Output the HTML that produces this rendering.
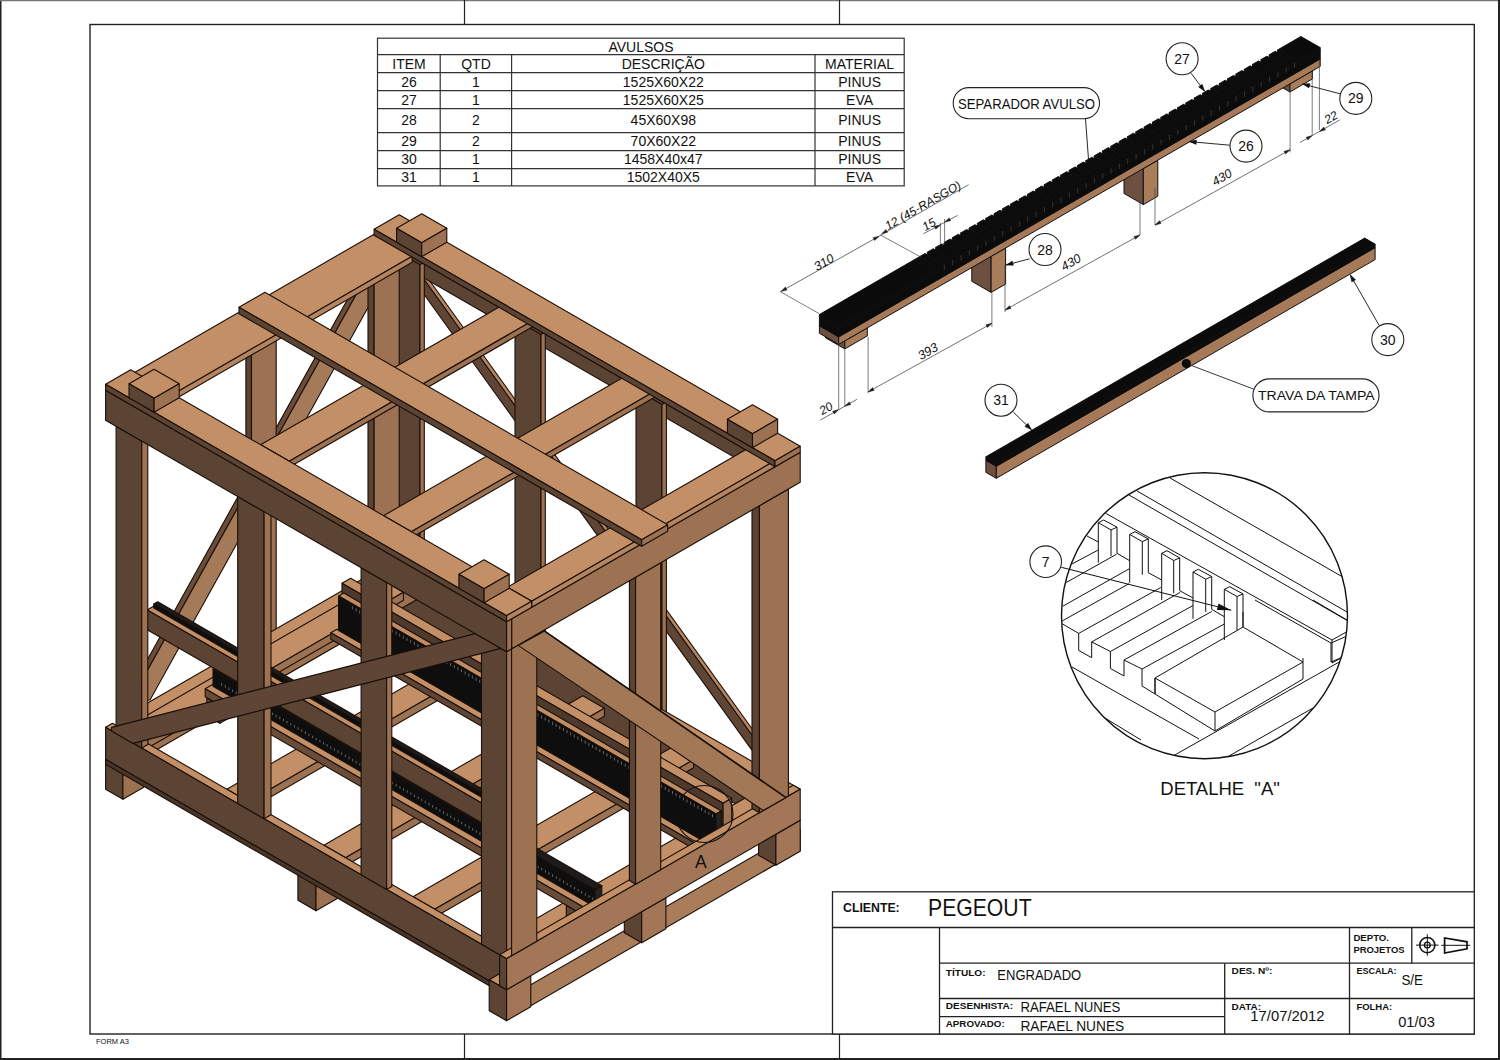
<!DOCTYPE html>
<html><head><meta charset="utf-8">
<style>
html,body{margin:0;padding:0;background:#fff;width:1500px;height:1060px;overflow:hidden}
svg{display:block}
text{font-family:"Liberation Sans",sans-serif;fill:#111}
.b{font-weight:bold}
</style></head><body>
<svg width="1500" height="1060" viewBox="0 0 1500 1060">
<rect x="0" y="0" width="1500" height="1060" fill="#fff"/>
<!-- outer frame -->
<g stroke="#222" fill="none">
<path d="M0.5 0 V1060" stroke-width="2"/>
<path d="M0 0.5 H1500" stroke="#777" stroke-width="1.5"/>
<path d="M1499 0 V1060" stroke-width="2"/>
<path d="M0 1059 H1500" stroke-width="2"/>
<rect x="90" y="24.5" width="1384.3" height="1009.5" stroke-width="1.4"/>
<path d="M464.5 0 V24 M839.5 0 V24 M464.5 1034 V1060 M839.5 1034 V1060" stroke-width="1.2"/>
</g>
<text x="96" y="1044" font-size="7.5">FORM A3</text>

<!-- AVULSOS table -->
<g stroke="#333" fill="none" stroke-width="1.2">
<rect x="377.5" y="38.2" width="526.7" height="147.7"/>
<path d="M377.5 54.7 H904.2 M377.5 72.7 H904.2 M377.5 90.7 H904.2 M377.5 108.7 H904.2 M377.5 132.6 H904.2 M377.5 150.6 H904.2 M377.5 168.6 H904.2"/>
<path d="M440.2 54.7 V185.9 M511.6 54.7 V185.9 M815 54.7 V185.9"/>
</g>
<g font-size="14" text-anchor="middle">
<text x="641" y="51.5">AVULSOS</text>
<text x="409" y="68.8">ITEM</text><text x="476" y="68.8">QTD</text><text x="663.3" y="68.8">DESCRIÇÃO</text><text x="859.6" y="68.8">MATERIAL</text>
<text x="409" y="86.8">26</text><text x="476" y="86.8">1</text><text x="663.3" y="86.8">1525X60X22</text><text x="859.6" y="86.8">PINUS</text>
<text x="409" y="104.8">27</text><text x="476" y="104.8">1</text><text x="663.3" y="104.8">1525X60X25</text><text x="859.6" y="104.8">EVA</text>
<text x="409" y="125.4">28</text><text x="476" y="125.4">2</text><text x="663.3" y="125.4">45X60X98</text><text x="859.6" y="125.4">PINUS</text>
<text x="409" y="146">29</text><text x="476" y="146">2</text><text x="663.3" y="146">70X60X22</text><text x="859.6" y="146">PINUS</text>
<text x="409" y="164">30</text><text x="476" y="164">1</text><text x="663.3" y="164">1458X40x47</text><text x="859.6" y="164">PINUS</text>
<text x="409" y="182">31</text><text x="476" y="182">1</text><text x="663.3" y="182">1502X40X5</text><text x="859.6" y="182">EVA</text>
</g>

<!-- CRATE -->
<g id="crate">
<polygon points="400.7,262.0 411.7,262.0 773.6,765.0 762.6,765.0" fill="#5e4535" stroke="#1a0f08" stroke-width="1.1" stroke-linejoin="round"/>
<polygon points="411.7,262.0 416.2,262.0 778.1,765.0 773.6,765.0" fill="#b5845f" stroke="#1a0f08" stroke-width="1.1" stroke-linejoin="round"/>
<polygon points="374.1,235.2 775.0,466.7 775.0,480.7 374.1,249.2" fill="#5b4433" stroke="#1a0f08" stroke-width="1.1" stroke-linejoin="round"/>
<polygon points="398.3,252.2 420.0,264.7 420.0,587.7 398.3,575.2" fill="#5b4433" stroke="#1a0f08" stroke-width="1.1" stroke-linejoin="round"/>
<polygon points="420.0,264.7 424.3,262.2 424.3,585.2 420.0,587.7" fill="#9c7252" stroke="#1a0f08" stroke-width="1.1" stroke-linejoin="round"/>
<polygon points="515.0,319.5 541.0,334.5 541.0,657.5 515.0,642.5" fill="#5b4433" stroke="#1a0f08" stroke-width="1.1" stroke-linejoin="round"/>
<polygon points="541.0,334.5 545.3,332.0 545.3,655.0 541.0,657.5" fill="#9c7252" stroke="#1a0f08" stroke-width="1.1" stroke-linejoin="round"/>
<polygon points="636.0,389.4 662.0,404.4 662.0,727.5 636.0,712.5" fill="#5b4433" stroke="#1a0f08" stroke-width="1.1" stroke-linejoin="round"/>
<polygon points="662.0,404.4 666.4,401.9 666.4,725.0 662.0,727.5" fill="#9c7252" stroke="#1a0f08" stroke-width="1.1" stroke-linejoin="round"/>
<polygon points="359.4,278.0 365.4,278.0 131.0,700.0 125.0,700.0" fill="#6a4d39" stroke="#1a0f08" stroke-width="1.1" stroke-linejoin="round"/>
<polygon points="365.4,278.0 384.4,278.0 150.0,700.0 131.0,700.0" fill="#a57a58" stroke="#1a0f08" stroke-width="1.1" stroke-linejoin="round"/>
<polygon points="110.8,393.2 404.4,223.7 404.4,253.7 110.8,423.2" fill="#9c7252" stroke="#1a0f08" stroke-width="1.1" stroke-linejoin="round"/>
<polygon points="245.9,345.2 251.5,348.4 251.5,655.5 245.9,652.2" fill="#5b4433" stroke="#1a0f08" stroke-width="1.1" stroke-linejoin="round"/>
<polygon points="251.5,348.4 276.2,334.2 276.2,641.2 251.5,655.5" fill="#9c7252" stroke="#1a0f08" stroke-width="1.1" stroke-linejoin="round"/>
<polygon points="368.0,273.7 374.1,277.2 374.1,584.2 368.0,580.7" fill="#5b4433" stroke="#1a0f08" stroke-width="1.1" stroke-linejoin="round"/>
<polygon points="374.1,277.2 399.2,262.7 399.2,569.7 374.1,584.2" fill="#9c7252" stroke="#1a0f08" stroke-width="1.1" stroke-linejoin="round"/>
<polygon points="381.9,567.7 782.8,799.2 800.2,789.2 399.2,557.7" fill="#c38f66" stroke="#1a0f08" stroke-width="1.1" stroke-linejoin="round"/>
<polygon points="381.9,567.7 782.8,799.2 782.8,831.2 381.9,599.7" fill="#5b4433" stroke="#1a0f08" stroke-width="1.1" stroke-linejoin="round"/>
<polygon points="122.9,717.2 140.2,727.2 416.5,567.7 399.2,557.7" fill="#c38f66" stroke="#1a0f08" stroke-width="1.1" stroke-linejoin="round"/>
<polygon points="140.2,727.2 416.5,567.7 416.5,599.7 140.2,759.2" fill="#9c7252" stroke="#1a0f08" stroke-width="1.1" stroke-linejoin="round"/>
<polygon points="122.9,729.2 144.6,741.7 403.5,592.2 381.9,579.7" fill="#c38f66" stroke="#1a0f08" stroke-width="1.1" stroke-linejoin="round"/>
<polygon points="122.9,729.2 144.6,741.7 144.6,749.7 122.9,737.2" fill="#5b4433" stroke="#1a0f08" stroke-width="1.1" stroke-linejoin="round"/>
<polygon points="144.6,741.7 403.5,592.2 403.5,600.2 144.6,749.7" fill="#9c7252" stroke="#1a0f08" stroke-width="1.1" stroke-linejoin="round"/>
<polygon points="226.8,789.2 248.5,801.7 507.4,652.2 485.8,639.7" fill="#c38f66" stroke="#1a0f08" stroke-width="1.1" stroke-linejoin="round"/>
<polygon points="226.8,789.2 248.5,801.7 248.5,809.7 226.8,797.2" fill="#5b4433" stroke="#1a0f08" stroke-width="1.1" stroke-linejoin="round"/>
<polygon points="248.5,801.7 507.4,652.2 507.4,660.2 248.5,809.7" fill="#9c7252" stroke="#1a0f08" stroke-width="1.1" stroke-linejoin="round"/>
<polygon points="323.8,845.2 345.5,857.7 604.4,708.2 582.8,695.7" fill="#c38f66" stroke="#1a0f08" stroke-width="1.1" stroke-linejoin="round"/>
<polygon points="323.8,845.2 345.5,857.7 345.5,865.7 323.8,853.2" fill="#5b4433" stroke="#1a0f08" stroke-width="1.1" stroke-linejoin="round"/>
<polygon points="345.5,857.7 604.4,708.2 604.4,716.2 345.5,865.7" fill="#9c7252" stroke="#1a0f08" stroke-width="1.1" stroke-linejoin="round"/>
<polygon points="413.0,896.7 434.7,909.2 693.6,759.7 672.0,747.2" fill="#c38f66" stroke="#1a0f08" stroke-width="1.1" stroke-linejoin="round"/>
<polygon points="413.0,896.7 434.7,909.2 434.7,917.2 413.0,904.7" fill="#5b4433" stroke="#1a0f08" stroke-width="1.1" stroke-linejoin="round"/>
<polygon points="434.7,909.2 693.6,759.7 693.6,767.7 434.7,917.2" fill="#9c7252" stroke="#1a0f08" stroke-width="1.1" stroke-linejoin="round"/>
<polygon points="493.6,943.2 515.2,955.7 774.2,806.2 752.5,793.7" fill="#c38f66" stroke="#1a0f08" stroke-width="1.1" stroke-linejoin="round"/>
<polygon points="493.6,943.2 515.2,955.7 515.2,963.7 493.6,951.2" fill="#5b4433" stroke="#1a0f08" stroke-width="1.1" stroke-linejoin="round"/>
<polygon points="515.2,955.7 774.2,806.2 774.2,814.2 515.2,963.7" fill="#9c7252" stroke="#1a0f08" stroke-width="1.1" stroke-linejoin="round"/>
<polygon points="342.0,583.3 723.1,803.3 731.7,798.3 350.7,578.3" fill="#c38f66" stroke="#1a0f08" stroke-width="1.1" stroke-linejoin="round"/>
<polygon points="342.0,583.3 723.1,803.3 723.1,845.7 342.0,625.7" fill="#4e3a2c" stroke="#1a0f08" stroke-width="1.1" stroke-linejoin="round"/>
<polygon points="723.1,803.3 731.7,798.3 731.7,840.7 723.1,845.7" fill="#9c7252" stroke="#1a0f08" stroke-width="1.1" stroke-linejoin="round"/>
<polygon points="330.8,632.7 711.8,852.7 717.9,849.2 336.8,629.2" fill="#c38f66" stroke="#1a0f08" stroke-width="1.1" stroke-linejoin="round"/>
<polygon points="330.8,632.7 711.8,852.7 711.8,859.2 330.8,639.2" fill="#5e4535" stroke="#1a0f08" stroke-width="1.1" stroke-linejoin="round"/>
<polygon points="711.8,852.7 717.9,849.2 717.9,855.7 711.8,859.2" fill="#9c7252" stroke="#1a0f08" stroke-width="1.1" stroke-linejoin="round"/>
<polygon points="338.6,595.9 716.1,813.9 721.3,810.9 343.8,592.9" fill="#c08c64" stroke="#1a0f08" stroke-width="1.1" stroke-linejoin="round"/>
<polygon points="338.6,595.9 716.1,813.9 716.1,848.2 338.6,630.2" fill="#0e0e0e" stroke="#1a0f08" stroke-width="1.1" stroke-linejoin="round"/>
<polygon points="716.1,813.9 721.3,810.9 721.3,845.2 716.1,848.2" fill="#222" stroke="#1a0f08" stroke-width="1.1" stroke-linejoin="round"/>
<line x1="352.4" y1="606.3" x2="352.4" y2="609.3" stroke="#8a8a8a" stroke-width="0.7"/>
<line x1="356.1" y1="608.4" x2="356.1" y2="611.4" stroke="#8a8a8a" stroke-width="0.7"/>
<line x1="359.7" y1="610.5" x2="359.7" y2="613.5" stroke="#8a8a8a" stroke-width="0.7"/>
<line x1="363.3" y1="612.6" x2="363.3" y2="615.6" stroke="#8a8a8a" stroke-width="0.7"/>
<line x1="367.0" y1="614.7" x2="367.0" y2="617.7" stroke="#8a8a8a" stroke-width="0.7"/>
<line x1="370.6" y1="616.8" x2="370.6" y2="619.8" stroke="#8a8a8a" stroke-width="0.7"/>
<line x1="374.2" y1="618.9" x2="374.2" y2="621.9" stroke="#8a8a8a" stroke-width="0.7"/>
<line x1="377.9" y1="621.0" x2="377.9" y2="624.0" stroke="#8a8a8a" stroke-width="0.7"/>
<line x1="381.5" y1="623.1" x2="381.5" y2="626.1" stroke="#8a8a8a" stroke-width="0.7"/>
<line x1="385.2" y1="625.2" x2="385.2" y2="628.2" stroke="#8a8a8a" stroke-width="0.7"/>
<line x1="388.8" y1="627.3" x2="388.8" y2="630.3" stroke="#8a8a8a" stroke-width="0.7"/>
<line x1="392.4" y1="629.4" x2="392.4" y2="632.4" stroke="#8a8a8a" stroke-width="0.7"/>
<line x1="396.1" y1="631.5" x2="396.1" y2="634.5" stroke="#8a8a8a" stroke-width="0.7"/>
<line x1="399.7" y1="633.6" x2="399.7" y2="636.6" stroke="#8a8a8a" stroke-width="0.7"/>
<line x1="403.3" y1="635.7" x2="403.3" y2="638.7" stroke="#8a8a8a" stroke-width="0.7"/>
<line x1="407.0" y1="637.8" x2="407.0" y2="640.8" stroke="#8a8a8a" stroke-width="0.7"/>
<line x1="410.6" y1="639.9" x2="410.6" y2="642.9" stroke="#8a8a8a" stroke-width="0.7"/>
<line x1="414.3" y1="642.0" x2="414.3" y2="645.0" stroke="#8a8a8a" stroke-width="0.7"/>
<line x1="417.9" y1="644.1" x2="417.9" y2="647.1" stroke="#8a8a8a" stroke-width="0.7"/>
<line x1="421.5" y1="646.2" x2="421.5" y2="649.2" stroke="#8a8a8a" stroke-width="0.7"/>
<line x1="425.2" y1="648.3" x2="425.2" y2="651.3" stroke="#8a8a8a" stroke-width="0.7"/>
<line x1="428.8" y1="650.4" x2="428.8" y2="653.4" stroke="#8a8a8a" stroke-width="0.7"/>
<line x1="432.4" y1="652.5" x2="432.4" y2="655.5" stroke="#8a8a8a" stroke-width="0.7"/>
<line x1="436.1" y1="654.6" x2="436.1" y2="657.6" stroke="#8a8a8a" stroke-width="0.7"/>
<line x1="439.7" y1="656.7" x2="439.7" y2="659.7" stroke="#8a8a8a" stroke-width="0.7"/>
<line x1="443.3" y1="658.8" x2="443.3" y2="661.8" stroke="#8a8a8a" stroke-width="0.7"/>
<line x1="447.0" y1="660.9" x2="447.0" y2="663.9" stroke="#8a8a8a" stroke-width="0.7"/>
<line x1="450.6" y1="663.0" x2="450.6" y2="666.0" stroke="#8a8a8a" stroke-width="0.7"/>
<line x1="454.3" y1="665.1" x2="454.3" y2="668.1" stroke="#8a8a8a" stroke-width="0.7"/>
<line x1="457.9" y1="667.2" x2="457.9" y2="670.2" stroke="#8a8a8a" stroke-width="0.7"/>
<line x1="461.5" y1="669.3" x2="461.5" y2="672.3" stroke="#8a8a8a" stroke-width="0.7"/>
<line x1="465.2" y1="671.4" x2="465.2" y2="674.4" stroke="#8a8a8a" stroke-width="0.7"/>
<line x1="468.8" y1="673.5" x2="468.8" y2="676.5" stroke="#8a8a8a" stroke-width="0.7"/>
<line x1="472.4" y1="675.6" x2="472.4" y2="678.6" stroke="#8a8a8a" stroke-width="0.7"/>
<line x1="476.1" y1="677.7" x2="476.1" y2="680.7" stroke="#8a8a8a" stroke-width="0.7"/>
<line x1="479.7" y1="679.8" x2="479.7" y2="682.8" stroke="#8a8a8a" stroke-width="0.7"/>
<line x1="483.4" y1="681.9" x2="483.4" y2="684.9" stroke="#8a8a8a" stroke-width="0.7"/>
<line x1="487.0" y1="684.0" x2="487.0" y2="687.0" stroke="#8a8a8a" stroke-width="0.7"/>
<line x1="490.6" y1="686.1" x2="490.6" y2="689.1" stroke="#8a8a8a" stroke-width="0.7"/>
<line x1="494.3" y1="688.2" x2="494.3" y2="691.2" stroke="#8a8a8a" stroke-width="0.7"/>
<line x1="497.9" y1="690.3" x2="497.9" y2="693.3" stroke="#8a8a8a" stroke-width="0.7"/>
<line x1="501.5" y1="692.4" x2="501.5" y2="695.4" stroke="#8a8a8a" stroke-width="0.7"/>
<line x1="505.2" y1="694.5" x2="505.2" y2="697.5" stroke="#8a8a8a" stroke-width="0.7"/>
<line x1="508.8" y1="696.6" x2="508.8" y2="699.6" stroke="#8a8a8a" stroke-width="0.7"/>
<line x1="512.5" y1="698.7" x2="512.5" y2="701.7" stroke="#8a8a8a" stroke-width="0.7"/>
<line x1="516.1" y1="700.8" x2="516.1" y2="703.8" stroke="#8a8a8a" stroke-width="0.7"/>
<line x1="519.7" y1="702.9" x2="519.7" y2="705.9" stroke="#8a8a8a" stroke-width="0.7"/>
<line x1="523.4" y1="705.0" x2="523.4" y2="708.0" stroke="#8a8a8a" stroke-width="0.7"/>
<line x1="527.0" y1="707.1" x2="527.0" y2="710.1" stroke="#8a8a8a" stroke-width="0.7"/>
<line x1="530.6" y1="709.2" x2="530.6" y2="712.2" stroke="#8a8a8a" stroke-width="0.7"/>
<line x1="534.3" y1="711.3" x2="534.3" y2="714.3" stroke="#8a8a8a" stroke-width="0.7"/>
<line x1="537.9" y1="713.4" x2="537.9" y2="716.4" stroke="#8a8a8a" stroke-width="0.7"/>
<line x1="541.6" y1="715.5" x2="541.6" y2="718.5" stroke="#8a8a8a" stroke-width="0.7"/>
<line x1="545.2" y1="717.6" x2="545.2" y2="720.6" stroke="#8a8a8a" stroke-width="0.7"/>
<line x1="548.8" y1="719.7" x2="548.8" y2="722.7" stroke="#8a8a8a" stroke-width="0.7"/>
<line x1="552.5" y1="721.8" x2="552.5" y2="724.8" stroke="#8a8a8a" stroke-width="0.7"/>
<line x1="556.1" y1="723.9" x2="556.1" y2="726.9" stroke="#8a8a8a" stroke-width="0.7"/>
<line x1="559.7" y1="726.0" x2="559.7" y2="729.0" stroke="#8a8a8a" stroke-width="0.7"/>
<line x1="563.4" y1="728.1" x2="563.4" y2="731.1" stroke="#8a8a8a" stroke-width="0.7"/>
<line x1="567.0" y1="730.2" x2="567.0" y2="733.2" stroke="#8a8a8a" stroke-width="0.7"/>
<line x1="570.7" y1="732.3" x2="570.7" y2="735.3" stroke="#8a8a8a" stroke-width="0.7"/>
<line x1="574.3" y1="734.4" x2="574.3" y2="737.4" stroke="#8a8a8a" stroke-width="0.7"/>
<line x1="577.9" y1="736.5" x2="577.9" y2="739.5" stroke="#8a8a8a" stroke-width="0.7"/>
<line x1="581.6" y1="738.6" x2="581.6" y2="741.6" stroke="#8a8a8a" stroke-width="0.7"/>
<line x1="585.2" y1="740.7" x2="585.2" y2="743.7" stroke="#8a8a8a" stroke-width="0.7"/>
<line x1="588.8" y1="742.8" x2="588.8" y2="745.8" stroke="#8a8a8a" stroke-width="0.7"/>
<line x1="592.5" y1="744.9" x2="592.5" y2="747.9" stroke="#8a8a8a" stroke-width="0.7"/>
<line x1="596.1" y1="747.0" x2="596.1" y2="750.0" stroke="#8a8a8a" stroke-width="0.7"/>
<line x1="599.8" y1="749.1" x2="599.8" y2="752.1" stroke="#8a8a8a" stroke-width="0.7"/>
<line x1="603.4" y1="751.2" x2="603.4" y2="754.2" stroke="#8a8a8a" stroke-width="0.7"/>
<line x1="607.0" y1="753.3" x2="607.0" y2="756.3" stroke="#8a8a8a" stroke-width="0.7"/>
<line x1="610.7" y1="755.4" x2="610.7" y2="758.4" stroke="#8a8a8a" stroke-width="0.7"/>
<line x1="614.3" y1="757.5" x2="614.3" y2="760.5" stroke="#8a8a8a" stroke-width="0.7"/>
<line x1="617.9" y1="759.6" x2="617.9" y2="762.6" stroke="#8a8a8a" stroke-width="0.7"/>
<line x1="621.6" y1="761.7" x2="621.6" y2="764.7" stroke="#8a8a8a" stroke-width="0.7"/>
<line x1="625.2" y1="763.8" x2="625.2" y2="766.8" stroke="#8a8a8a" stroke-width="0.7"/>
<line x1="628.9" y1="765.9" x2="628.9" y2="768.9" stroke="#8a8a8a" stroke-width="0.7"/>
<line x1="632.5" y1="768.0" x2="632.5" y2="771.0" stroke="#8a8a8a" stroke-width="0.7"/>
<line x1="636.1" y1="770.1" x2="636.1" y2="773.1" stroke="#8a8a8a" stroke-width="0.7"/>
<line x1="639.8" y1="772.2" x2="639.8" y2="775.2" stroke="#8a8a8a" stroke-width="0.7"/>
<line x1="643.4" y1="774.3" x2="643.4" y2="777.3" stroke="#8a8a8a" stroke-width="0.7"/>
<line x1="647.0" y1="776.4" x2="647.0" y2="779.4" stroke="#8a8a8a" stroke-width="0.7"/>
<line x1="650.7" y1="778.5" x2="650.7" y2="781.5" stroke="#8a8a8a" stroke-width="0.7"/>
<line x1="654.3" y1="780.6" x2="654.3" y2="783.6" stroke="#8a8a8a" stroke-width="0.7"/>
<line x1="658.0" y1="782.7" x2="658.0" y2="785.7" stroke="#8a8a8a" stroke-width="0.7"/>
<line x1="661.6" y1="784.8" x2="661.6" y2="787.8" stroke="#8a8a8a" stroke-width="0.7"/>
<line x1="665.2" y1="786.9" x2="665.2" y2="789.9" stroke="#8a8a8a" stroke-width="0.7"/>
<line x1="668.9" y1="789.0" x2="668.9" y2="792.0" stroke="#8a8a8a" stroke-width="0.7"/>
<line x1="672.5" y1="791.1" x2="672.5" y2="794.1" stroke="#8a8a8a" stroke-width="0.7"/>
<line x1="676.1" y1="793.2" x2="676.1" y2="796.2" stroke="#8a8a8a" stroke-width="0.7"/>
<line x1="679.8" y1="795.3" x2="679.8" y2="798.3" stroke="#8a8a8a" stroke-width="0.7"/>
<line x1="683.4" y1="797.4" x2="683.4" y2="800.4" stroke="#8a8a8a" stroke-width="0.7"/>
<line x1="687.0" y1="799.5" x2="687.0" y2="802.5" stroke="#8a8a8a" stroke-width="0.7"/>
<line x1="690.7" y1="801.6" x2="690.7" y2="804.6" stroke="#8a8a8a" stroke-width="0.7"/>
<line x1="694.3" y1="803.7" x2="694.3" y2="806.7" stroke="#8a8a8a" stroke-width="0.7"/>
<line x1="698.0" y1="805.8" x2="698.0" y2="808.8" stroke="#8a8a8a" stroke-width="0.7"/>
<line x1="701.6" y1="807.9" x2="701.6" y2="810.9" stroke="#8a8a8a" stroke-width="0.7"/>
<line x1="705.2" y1="810.0" x2="705.2" y2="813.0" stroke="#8a8a8a" stroke-width="0.7"/>
<line x1="708.9" y1="812.1" x2="708.9" y2="815.1" stroke="#8a8a8a" stroke-width="0.7"/>
<line x1="712.5" y1="814.2" x2="712.5" y2="817.2" stroke="#8a8a8a" stroke-width="0.7"/>
<polygon points="206.9,697.7 219.9,705.2 232.9,697.7 219.9,690.2" fill="#c38f66" stroke="#1a0f08" stroke-width="1.1" stroke-linejoin="round"/>
<polygon points="206.9,697.7 219.9,705.2 219.9,723.2 206.9,715.7" fill="#5e4535" stroke="#1a0f08" stroke-width="1.1" stroke-linejoin="round"/>
<polygon points="219.9,705.2 232.9,697.7 232.9,715.7 219.9,723.2" fill="#9c7252" stroke="#1a0f08" stroke-width="1.1" stroke-linejoin="round"/>
<polygon points="566.3,905.2 579.3,912.7 592.3,905.2 579.3,897.7" fill="#c38f66" stroke="#1a0f08" stroke-width="1.1" stroke-linejoin="round"/>
<polygon points="566.3,905.2 579.3,912.7 579.3,930.7 566.3,923.2" fill="#5e4535" stroke="#1a0f08" stroke-width="1.1" stroke-linejoin="round"/>
<polygon points="579.3,912.7 592.3,905.2 592.3,923.2 579.3,930.7" fill="#9c7252" stroke="#1a0f08" stroke-width="1.1" stroke-linejoin="round"/>
<polygon points="205.2,688.7 590.6,911.2 603.6,903.7 218.2,681.2" fill="#c38f66" stroke="#1a0f08" stroke-width="1.1" stroke-linejoin="round"/>
<polygon points="205.2,688.7 590.6,911.2 590.6,919.2 205.2,696.7" fill="#6a4d39" stroke="#1a0f08" stroke-width="1.1" stroke-linejoin="round"/>
<polygon points="590.6,911.2 603.6,903.7 603.6,911.7 590.6,919.2" fill="#9c7252" stroke="#1a0f08" stroke-width="1.1" stroke-linejoin="round"/>
<polygon points="213.0,669.2 594.9,889.7 601.8,885.7 219.9,665.2" fill="#1c1c1c" stroke="#1a0f08" stroke-width="1.1" stroke-linejoin="round"/>
<polygon points="213.0,669.2 594.9,889.7 594.9,906.7 213.0,686.2" fill="#0e0e0e" stroke="#1a0f08" stroke-width="1.1" stroke-linejoin="round"/>
<polygon points="594.9,889.7 601.8,885.7 601.8,902.7 594.9,906.7" fill="#222" stroke="#1a0f08" stroke-width="1.1" stroke-linejoin="round"/>
<line x1="221.6" y1="683.2" x2="221.6" y2="685.7" stroke="#8a8a8a" stroke-width="0.7"/>
<line x1="225.3" y1="685.3" x2="225.3" y2="687.8" stroke="#8a8a8a" stroke-width="0.7"/>
<line x1="228.9" y1="687.4" x2="228.9" y2="689.9" stroke="#8a8a8a" stroke-width="0.7"/>
<line x1="232.6" y1="689.5" x2="232.6" y2="692.0" stroke="#8a8a8a" stroke-width="0.7"/>
<line x1="236.2" y1="691.6" x2="236.2" y2="694.1" stroke="#8a8a8a" stroke-width="0.7"/>
<line x1="239.8" y1="693.7" x2="239.8" y2="696.2" stroke="#8a8a8a" stroke-width="0.7"/>
<line x1="243.5" y1="695.8" x2="243.5" y2="698.3" stroke="#8a8a8a" stroke-width="0.7"/>
<line x1="247.1" y1="697.9" x2="247.1" y2="700.4" stroke="#8a8a8a" stroke-width="0.7"/>
<line x1="250.7" y1="700.0" x2="250.7" y2="702.5" stroke="#8a8a8a" stroke-width="0.7"/>
<line x1="254.4" y1="702.1" x2="254.4" y2="704.6" stroke="#8a8a8a" stroke-width="0.7"/>
<line x1="258.0" y1="704.2" x2="258.0" y2="706.7" stroke="#8a8a8a" stroke-width="0.7"/>
<line x1="261.7" y1="706.3" x2="261.7" y2="708.8" stroke="#8a8a8a" stroke-width="0.7"/>
<line x1="265.3" y1="708.4" x2="265.3" y2="710.9" stroke="#8a8a8a" stroke-width="0.7"/>
<line x1="268.9" y1="710.5" x2="268.9" y2="713.0" stroke="#8a8a8a" stroke-width="0.7"/>
<line x1="272.6" y1="712.6" x2="272.6" y2="715.1" stroke="#8a8a8a" stroke-width="0.7"/>
<line x1="276.2" y1="714.7" x2="276.2" y2="717.2" stroke="#8a8a8a" stroke-width="0.7"/>
<line x1="279.8" y1="716.8" x2="279.8" y2="719.3" stroke="#8a8a8a" stroke-width="0.7"/>
<line x1="283.5" y1="718.9" x2="283.5" y2="721.4" stroke="#8a8a8a" stroke-width="0.7"/>
<line x1="287.1" y1="721.0" x2="287.1" y2="723.5" stroke="#8a8a8a" stroke-width="0.7"/>
<line x1="290.8" y1="723.1" x2="290.8" y2="725.6" stroke="#8a8a8a" stroke-width="0.7"/>
<line x1="294.4" y1="725.2" x2="294.4" y2="727.7" stroke="#8a8a8a" stroke-width="0.7"/>
<line x1="298.0" y1="727.3" x2="298.0" y2="729.8" stroke="#8a8a8a" stroke-width="0.7"/>
<line x1="301.7" y1="729.4" x2="301.7" y2="731.9" stroke="#8a8a8a" stroke-width="0.7"/>
<line x1="305.3" y1="731.5" x2="305.3" y2="734.0" stroke="#8a8a8a" stroke-width="0.7"/>
<line x1="308.9" y1="733.6" x2="308.9" y2="736.1" stroke="#8a8a8a" stroke-width="0.7"/>
<line x1="312.6" y1="735.7" x2="312.6" y2="738.2" stroke="#8a8a8a" stroke-width="0.7"/>
<line x1="316.2" y1="737.8" x2="316.2" y2="740.3" stroke="#8a8a8a" stroke-width="0.7"/>
<line x1="319.9" y1="739.9" x2="319.9" y2="742.4" stroke="#8a8a8a" stroke-width="0.7"/>
<line x1="323.5" y1="742.0" x2="323.5" y2="744.5" stroke="#8a8a8a" stroke-width="0.7"/>
<line x1="327.1" y1="744.1" x2="327.1" y2="746.6" stroke="#8a8a8a" stroke-width="0.7"/>
<line x1="330.8" y1="746.2" x2="330.8" y2="748.7" stroke="#8a8a8a" stroke-width="0.7"/>
<line x1="334.4" y1="748.3" x2="334.4" y2="750.8" stroke="#8a8a8a" stroke-width="0.7"/>
<line x1="338.0" y1="750.4" x2="338.0" y2="752.9" stroke="#8a8a8a" stroke-width="0.7"/>
<line x1="341.7" y1="752.5" x2="341.7" y2="755.0" stroke="#8a8a8a" stroke-width="0.7"/>
<line x1="345.3" y1="754.6" x2="345.3" y2="757.1" stroke="#8a8a8a" stroke-width="0.7"/>
<line x1="349.0" y1="756.7" x2="349.0" y2="759.2" stroke="#8a8a8a" stroke-width="0.7"/>
<line x1="352.6" y1="758.8" x2="352.6" y2="761.3" stroke="#8a8a8a" stroke-width="0.7"/>
<line x1="356.2" y1="760.9" x2="356.2" y2="763.4" stroke="#8a8a8a" stroke-width="0.7"/>
<line x1="359.9" y1="763.0" x2="359.9" y2="765.5" stroke="#8a8a8a" stroke-width="0.7"/>
<line x1="363.5" y1="765.1" x2="363.5" y2="767.6" stroke="#8a8a8a" stroke-width="0.7"/>
<line x1="367.1" y1="767.2" x2="367.1" y2="769.7" stroke="#8a8a8a" stroke-width="0.7"/>
<line x1="370.8" y1="769.3" x2="370.8" y2="771.8" stroke="#8a8a8a" stroke-width="0.7"/>
<line x1="374.4" y1="771.4" x2="374.4" y2="773.9" stroke="#8a8a8a" stroke-width="0.7"/>
<line x1="378.1" y1="773.5" x2="378.1" y2="776.0" stroke="#8a8a8a" stroke-width="0.7"/>
<line x1="381.7" y1="775.6" x2="381.7" y2="778.1" stroke="#8a8a8a" stroke-width="0.7"/>
<line x1="385.3" y1="777.7" x2="385.3" y2="780.2" stroke="#8a8a8a" stroke-width="0.7"/>
<line x1="389.0" y1="779.8" x2="389.0" y2="782.3" stroke="#8a8a8a" stroke-width="0.7"/>
<line x1="392.6" y1="781.9" x2="392.6" y2="784.4" stroke="#8a8a8a" stroke-width="0.7"/>
<line x1="396.2" y1="784.0" x2="396.2" y2="786.5" stroke="#8a8a8a" stroke-width="0.7"/>
<line x1="399.9" y1="786.1" x2="399.9" y2="788.6" stroke="#8a8a8a" stroke-width="0.7"/>
<line x1="403.5" y1="788.2" x2="403.5" y2="790.7" stroke="#8a8a8a" stroke-width="0.7"/>
<line x1="407.2" y1="790.3" x2="407.2" y2="792.8" stroke="#8a8a8a" stroke-width="0.7"/>
<line x1="410.8" y1="792.4" x2="410.8" y2="794.9" stroke="#8a8a8a" stroke-width="0.7"/>
<line x1="414.4" y1="794.5" x2="414.4" y2="797.0" stroke="#8a8a8a" stroke-width="0.7"/>
<line x1="418.1" y1="796.6" x2="418.1" y2="799.1" stroke="#8a8a8a" stroke-width="0.7"/>
<line x1="421.7" y1="798.7" x2="421.7" y2="801.2" stroke="#8a8a8a" stroke-width="0.7"/>
<line x1="425.3" y1="800.8" x2="425.3" y2="803.3" stroke="#8a8a8a" stroke-width="0.7"/>
<line x1="429.0" y1="802.9" x2="429.0" y2="805.4" stroke="#8a8a8a" stroke-width="0.7"/>
<line x1="432.6" y1="805.0" x2="432.6" y2="807.5" stroke="#8a8a8a" stroke-width="0.7"/>
<line x1="436.2" y1="807.1" x2="436.2" y2="809.6" stroke="#8a8a8a" stroke-width="0.7"/>
<line x1="439.9" y1="809.2" x2="439.9" y2="811.7" stroke="#8a8a8a" stroke-width="0.7"/>
<line x1="443.5" y1="811.3" x2="443.5" y2="813.8" stroke="#8a8a8a" stroke-width="0.7"/>
<line x1="447.2" y1="813.4" x2="447.2" y2="815.9" stroke="#8a8a8a" stroke-width="0.7"/>
<line x1="450.8" y1="815.5" x2="450.8" y2="818.0" stroke="#8a8a8a" stroke-width="0.7"/>
<line x1="454.4" y1="817.6" x2="454.4" y2="820.1" stroke="#8a8a8a" stroke-width="0.7"/>
<line x1="458.1" y1="819.7" x2="458.1" y2="822.2" stroke="#8a8a8a" stroke-width="0.7"/>
<line x1="461.7" y1="821.8" x2="461.7" y2="824.3" stroke="#8a8a8a" stroke-width="0.7"/>
<line x1="465.3" y1="823.9" x2="465.3" y2="826.4" stroke="#8a8a8a" stroke-width="0.7"/>
<line x1="469.0" y1="826.0" x2="469.0" y2="828.5" stroke="#8a8a8a" stroke-width="0.7"/>
<line x1="472.6" y1="828.1" x2="472.6" y2="830.6" stroke="#8a8a8a" stroke-width="0.7"/>
<line x1="476.3" y1="830.2" x2="476.3" y2="832.7" stroke="#8a8a8a" stroke-width="0.7"/>
<line x1="479.9" y1="832.3" x2="479.9" y2="834.8" stroke="#8a8a8a" stroke-width="0.7"/>
<line x1="483.5" y1="834.4" x2="483.5" y2="836.9" stroke="#8a8a8a" stroke-width="0.7"/>
<line x1="487.2" y1="836.5" x2="487.2" y2="839.0" stroke="#8a8a8a" stroke-width="0.7"/>
<line x1="490.8" y1="838.6" x2="490.8" y2="841.1" stroke="#8a8a8a" stroke-width="0.7"/>
<line x1="494.4" y1="840.7" x2="494.4" y2="843.2" stroke="#8a8a8a" stroke-width="0.7"/>
<line x1="498.1" y1="842.8" x2="498.1" y2="845.3" stroke="#8a8a8a" stroke-width="0.7"/>
<line x1="501.7" y1="844.9" x2="501.7" y2="847.4" stroke="#8a8a8a" stroke-width="0.7"/>
<line x1="505.4" y1="847.0" x2="505.4" y2="849.5" stroke="#8a8a8a" stroke-width="0.7"/>
<line x1="509.0" y1="849.1" x2="509.0" y2="851.6" stroke="#8a8a8a" stroke-width="0.7"/>
<line x1="512.6" y1="851.2" x2="512.6" y2="853.7" stroke="#8a8a8a" stroke-width="0.7"/>
<line x1="516.3" y1="853.3" x2="516.3" y2="855.8" stroke="#8a8a8a" stroke-width="0.7"/>
<line x1="519.9" y1="855.4" x2="519.9" y2="857.9" stroke="#8a8a8a" stroke-width="0.7"/>
<line x1="523.5" y1="857.5" x2="523.5" y2="860.0" stroke="#8a8a8a" stroke-width="0.7"/>
<line x1="527.2" y1="859.6" x2="527.2" y2="862.1" stroke="#8a8a8a" stroke-width="0.7"/>
<line x1="530.8" y1="861.7" x2="530.8" y2="864.2" stroke="#8a8a8a" stroke-width="0.7"/>
<line x1="534.5" y1="863.8" x2="534.5" y2="866.3" stroke="#8a8a8a" stroke-width="0.7"/>
<line x1="538.1" y1="865.9" x2="538.1" y2="868.4" stroke="#8a8a8a" stroke-width="0.7"/>
<line x1="541.7" y1="868.0" x2="541.7" y2="870.5" stroke="#8a8a8a" stroke-width="0.7"/>
<line x1="545.4" y1="870.1" x2="545.4" y2="872.6" stroke="#8a8a8a" stroke-width="0.7"/>
<line x1="549.0" y1="872.2" x2="549.0" y2="874.7" stroke="#8a8a8a" stroke-width="0.7"/>
<line x1="552.6" y1="874.3" x2="552.6" y2="876.8" stroke="#8a8a8a" stroke-width="0.7"/>
<line x1="556.3" y1="876.4" x2="556.3" y2="878.9" stroke="#8a8a8a" stroke-width="0.7"/>
<line x1="559.9" y1="878.5" x2="559.9" y2="881.0" stroke="#8a8a8a" stroke-width="0.7"/>
<line x1="563.6" y1="880.6" x2="563.6" y2="883.1" stroke="#8a8a8a" stroke-width="0.7"/>
<line x1="567.2" y1="882.7" x2="567.2" y2="885.2" stroke="#8a8a8a" stroke-width="0.7"/>
<line x1="570.8" y1="884.8" x2="570.8" y2="887.3" stroke="#8a8a8a" stroke-width="0.7"/>
<line x1="574.5" y1="886.9" x2="574.5" y2="889.4" stroke="#8a8a8a" stroke-width="0.7"/>
<line x1="578.1" y1="889.0" x2="578.1" y2="891.5" stroke="#8a8a8a" stroke-width="0.7"/>
<line x1="581.7" y1="891.1" x2="581.7" y2="893.6" stroke="#8a8a8a" stroke-width="0.7"/>
<line x1="585.4" y1="893.2" x2="585.4" y2="895.7" stroke="#8a8a8a" stroke-width="0.7"/>
<line x1="589.0" y1="895.3" x2="589.0" y2="897.8" stroke="#8a8a8a" stroke-width="0.7"/>
<line x1="592.7" y1="897.4" x2="592.7" y2="899.9" stroke="#8a8a8a" stroke-width="0.7"/>
<polygon points="147.2,609.9 506.6,817.4 515.4,812.3 156.0,604.8" fill="#c38f66" stroke="#1a0f08" stroke-width="1.1" stroke-linejoin="round"/>
<polygon points="147.2,609.9 506.6,817.4 506.6,837.2 147.2,629.7" fill="#5b4433" stroke="#1a0f08" stroke-width="1.1" stroke-linejoin="round"/>
<polygon points="506.6,817.4 515.4,812.3 515.4,832.1 506.6,837.2" fill="#9c7252" stroke="#1a0f08" stroke-width="1.1" stroke-linejoin="round"/>
<polygon points="153.8,604.0 509.8,809.5 513.7,807.3 157.7,601.8" fill="#1c1c1c" stroke="#1a0f08" stroke-width="1.1" stroke-linejoin="round"/>
<polygon points="153.8,604.0 509.8,809.5 509.8,813.5 153.8,608.0" fill="#0e0e0e" stroke="#1a0f08" stroke-width="1.1" stroke-linejoin="round"/>
<polygon points="509.8,809.5 513.7,807.3 513.7,811.3 509.8,813.5" fill="#222" stroke="#1a0f08" stroke-width="1.1" stroke-linejoin="round"/>
<polygon points="105.6,759.2 122.9,769.2 143.7,757.2 126.4,747.2" fill="#c38f66" stroke="#1a0f08" stroke-width="1.1" stroke-linejoin="round"/>
<polygon points="105.6,759.2 122.9,769.2 122.9,799.2 105.6,789.2" fill="#5b4433" stroke="#1a0f08" stroke-width="1.1" stroke-linejoin="round"/>
<polygon points="122.9,769.2 143.7,757.2 143.7,787.2 122.9,799.2" fill="#9c7252" stroke="#1a0f08" stroke-width="1.1" stroke-linejoin="round"/>
<polygon points="297.9,870.2 316.0,880.7 336.8,868.7 318.6,858.2" fill="#c38f66" stroke="#1a0f08" stroke-width="1.1" stroke-linejoin="round"/>
<polygon points="297.9,870.2 316.0,880.7 316.0,910.7 297.9,900.2" fill="#5b4433" stroke="#1a0f08" stroke-width="1.1" stroke-linejoin="round"/>
<polygon points="316.0,880.7 336.8,868.7 336.8,898.7 316.0,910.7" fill="#9c7252" stroke="#1a0f08" stroke-width="1.1" stroke-linejoin="round"/>
<polygon points="105.6,759.2 506.6,990.7 506.6,995.7 105.6,764.2" fill="#4a3628" stroke="#1a0f08" stroke-width="1.1" stroke-linejoin="round"/>
<polygon points="105.6,727.2 506.6,958.7 513.5,954.7 112.5,723.2" fill="#c38f66" stroke="#1a0f08" stroke-width="1.1" stroke-linejoin="round"/>
<polygon points="105.6,727.2 506.6,958.7 506.6,990.7 105.6,759.2" fill="#5b4433" stroke="#1a0f08" stroke-width="1.1" stroke-linejoin="round"/>
<polygon points="506.6,958.7 513.5,954.7 513.5,986.7 506.6,990.7" fill="#9c7252" stroke="#1a0f08" stroke-width="1.1" stroke-linejoin="round"/>
<polygon points="116.1,426.2 141.7,441.1 141.7,748.0 116.1,733.2" fill="#5b4433" stroke="#1a0f08" stroke-width="1.1" stroke-linejoin="round"/>
<polygon points="141.7,441.1 147.8,437.6 147.8,744.5 141.7,748.0" fill="#9c7252" stroke="#1a0f08" stroke-width="1.1" stroke-linejoin="round"/>
<polygon points="237.7,496.4 264.1,511.7 264.1,818.7 237.7,803.5" fill="#5b4433" stroke="#1a0f08" stroke-width="1.1" stroke-linejoin="round"/>
<polygon points="264.1,511.7 271.0,507.7 271.0,814.7 264.1,818.7" fill="#9c7252" stroke="#1a0f08" stroke-width="1.1" stroke-linejoin="round"/>
<polygon points="361.1,567.7 386.6,582.5 386.6,889.5 361.1,874.7" fill="#5b4433" stroke="#1a0f08" stroke-width="1.1" stroke-linejoin="round"/>
<polygon points="386.6,582.5 391.8,579.5 391.8,886.5 386.6,889.5" fill="#9c7252" stroke="#1a0f08" stroke-width="1.1" stroke-linejoin="round"/>
<polygon points="481.5,637.2 506.6,651.7 506.6,958.7 481.5,944.2" fill="#5b4433" stroke="#1a0f08" stroke-width="1.1" stroke-linejoin="round"/>
<polygon points="506.6,651.7 511.8,648.7 511.8,955.7 506.6,958.7" fill="#9c7252" stroke="#1a0f08" stroke-width="1.1" stroke-linejoin="round"/>
<polygon points="111.5,727.4 475.3,633.6 501.0,648.4 133.0,743.4 111.5,731.0" fill="#5e4535" stroke="#1a0f08" stroke-width="1.1" stroke-linejoin="round"/>
<polygon points="105.6,390.2 506.6,621.7 506.6,651.7 105.6,420.2" fill="#5b4433" stroke="#1a0f08" stroke-width="1.1" stroke-linejoin="round"/>
<polygon points="506.6,621.7 511.8,618.7 511.8,648.7 506.6,651.7" fill="#9c7252" stroke="#1a0f08" stroke-width="1.1" stroke-linejoin="round"/>
<polygon points="506.6,998.7 800.2,829.2 800.2,850.2 506.6,1019.7" fill="#a97c5a" stroke="#1a0f08" stroke-width="1.1" stroke-linejoin="round"/>
<polygon points="489.2,979.7 506.6,989.7 530.8,975.7 513.5,965.7" fill="#c38f66" stroke="#1a0f08" stroke-width="1.1" stroke-linejoin="round"/>
<polygon points="489.2,979.7 506.6,989.7 506.6,1020.7 489.2,1010.7" fill="#5b4433" stroke="#1a0f08" stroke-width="1.1" stroke-linejoin="round"/>
<polygon points="506.6,989.7 530.8,975.7 530.8,1006.7 506.6,1020.7" fill="#a27656" stroke="#1a0f08" stroke-width="1.1" stroke-linejoin="round"/>
<polygon points="624.3,901.7 641.7,911.7 665.9,897.7 648.6,887.7" fill="#c38f66" stroke="#1a0f08" stroke-width="1.1" stroke-linejoin="round"/>
<polygon points="624.3,901.7 641.7,911.7 641.7,942.7 624.3,932.7" fill="#5b4433" stroke="#1a0f08" stroke-width="1.1" stroke-linejoin="round"/>
<polygon points="641.7,911.7 665.9,897.7 665.9,928.7 641.7,942.7" fill="#a27656" stroke="#1a0f08" stroke-width="1.1" stroke-linejoin="round"/>
<polygon points="758.6,824.2 775.9,834.2 800.2,820.2 782.8,810.2" fill="#c38f66" stroke="#1a0f08" stroke-width="1.1" stroke-linejoin="round"/>
<polygon points="758.6,824.2 775.9,834.2 775.9,865.2 758.6,855.2" fill="#5b4433" stroke="#1a0f08" stroke-width="1.1" stroke-linejoin="round"/>
<polygon points="775.9,834.2 800.2,820.2 800.2,851.2 775.9,865.2" fill="#a27656" stroke="#1a0f08" stroke-width="1.1" stroke-linejoin="round"/>
<polygon points="499.6,954.7 506.6,958.7 800.2,789.2 793.2,785.2" fill="#c38f66" stroke="#1a0f08" stroke-width="1.1" stroke-linejoin="round"/>
<polygon points="499.6,954.7 506.6,958.7 506.6,989.7 499.6,985.7" fill="#5b4433" stroke="#1a0f08" stroke-width="1.1" stroke-linejoin="round"/>
<polygon points="506.6,958.7 800.2,789.2 800.2,820.2 506.6,989.7" fill="#a27656" stroke="#1a0f08" stroke-width="1.1" stroke-linejoin="round"/>
<polygon points="511.6,648.8 536.8,634.2 536.8,941.2 511.6,955.8" fill="#9c7252" stroke="#1a0f08" stroke-width="1.1" stroke-linejoin="round"/>
<polygon points="629.4,573.6 635.6,577.2 635.6,884.2 629.4,880.6" fill="#5b4433" stroke="#1a0f08" stroke-width="1.1" stroke-linejoin="round"/>
<polygon points="635.6,577.2 660.7,562.7 660.7,869.7 635.6,884.2" fill="#9c7252" stroke="#1a0f08" stroke-width="1.1" stroke-linejoin="round"/>
<polygon points="752.0,501.4 759.4,505.7 759.4,812.7 752.0,808.4" fill="#5b4433" stroke="#1a0f08" stroke-width="1.1" stroke-linejoin="round"/>
<polygon points="759.4,505.7 788.4,489.0 788.4,796.0 759.4,812.7" fill="#9c7252" stroke="#1a0f08" stroke-width="1.1" stroke-linejoin="round"/>
<polygon points="518.2,645.4 544.6,630.9 786.0,797.4 763.2,810.5" fill="#a27857" stroke="#1a0f08" stroke-width="1.1" stroke-linejoin="round"/>
<polygon points="539.4,627.9 544.6,630.9 786.0,797.4 780.8,794.4" fill="#c08c66" stroke="#1a0f08" stroke-width="1.1" stroke-linejoin="round"/>
<polygon points="511.8,618.7 800.2,452.2 800.2,482.2 511.8,648.7" fill="#9c7252" stroke="#1a0f08" stroke-width="1.1" stroke-linejoin="round"/>
<polygon points="130.7,374.7 168.8,396.7 412.2,256.2 374.1,234.2" fill="#c38f66" stroke="#1a0f08" stroke-width="1.1" stroke-linejoin="round"/>
<polygon points="130.7,374.7 168.8,396.7 168.8,402.7 130.7,380.7" fill="#5b4433" stroke="#1a0f08" stroke-width="1.1" stroke-linejoin="round"/>
<polygon points="168.8,396.7 412.2,256.2 412.2,262.2 168.8,402.7" fill="#b58560" stroke="#1a0f08" stroke-width="1.1" stroke-linejoin="round"/>
<polygon points="507.4,587.2 531.7,601.2 775.0,460.7 750.8,446.7" fill="#c38f66" stroke="#1a0f08" stroke-width="1.1" stroke-linejoin="round"/>
<polygon points="507.4,587.2 531.7,601.2 531.7,607.2 507.4,593.2" fill="#5b4433" stroke="#1a0f08" stroke-width="1.1" stroke-linejoin="round"/>
<polygon points="531.7,601.2 775.0,460.7 775.0,466.7 531.7,607.2" fill="#b58560" stroke="#1a0f08" stroke-width="1.1" stroke-linejoin="round"/>
<polygon points="260.6,444.7 289.2,461.2 532.6,320.7 504.0,304.2" fill="#c38f66" stroke="#1a0f08" stroke-width="1.1" stroke-linejoin="round"/>
<polygon points="260.6,444.7 289.2,461.2 289.2,467.2 260.6,450.7" fill="#5b4433" stroke="#1a0f08" stroke-width="1.1" stroke-linejoin="round"/>
<polygon points="289.2,461.2 532.6,320.7 532.6,326.7 289.2,467.2" fill="#9c7252" stroke="#1a0f08" stroke-width="1.1" stroke-linejoin="round"/>
<polygon points="383.6,515.7 411.3,531.7 654.7,391.2 626.9,375.2" fill="#c38f66" stroke="#1a0f08" stroke-width="1.1" stroke-linejoin="round"/>
<polygon points="383.6,515.7 411.3,531.7 411.3,537.7 383.6,521.7" fill="#5b4433" stroke="#1a0f08" stroke-width="1.1" stroke-linejoin="round"/>
<polygon points="411.3,531.7 654.7,391.2 654.7,397.2 411.3,537.7" fill="#9c7252" stroke="#1a0f08" stroke-width="1.1" stroke-linejoin="round"/>
<polygon points="374.1,229.2 775.0,460.7 800.2,446.2 399.2,214.7" fill="#c38f66" stroke="#1a0f08" stroke-width="1.1" stroke-linejoin="round"/>
<polygon points="374.1,229.2 775.0,460.7 775.0,466.7 374.1,235.2" fill="#5b4433" stroke="#1a0f08" stroke-width="1.1" stroke-linejoin="round"/>
<polygon points="775.0,460.7 800.2,446.2 800.2,452.2 775.0,466.7" fill="#9c7252" stroke="#1a0f08" stroke-width="1.1" stroke-linejoin="round"/>
<polygon points="105.6,384.2 506.6,615.7 531.7,601.2 130.7,369.7" fill="#c38f66" stroke="#1a0f08" stroke-width="1.1" stroke-linejoin="round"/>
<polygon points="105.6,384.2 506.6,615.7 506.6,621.7 105.6,390.2" fill="#5b4433" stroke="#1a0f08" stroke-width="1.1" stroke-linejoin="round"/>
<polygon points="506.6,615.7 531.7,601.2 531.7,607.2 506.6,621.7" fill="#b58560" stroke="#1a0f08" stroke-width="1.1" stroke-linejoin="round"/>
<polygon points="239.0,307.2 641.7,539.7 667.7,524.7 264.9,292.2" fill="#c38f66" stroke="#1a0f08" stroke-width="1.1" stroke-linejoin="round"/>
<polygon points="239.0,307.2 641.7,539.7 641.7,546.2 239.0,313.7" fill="#5b4433" stroke="#1a0f08" stroke-width="1.1" stroke-linejoin="round"/>
<polygon points="641.7,539.7 667.7,524.7 667.7,531.2 641.7,546.2" fill="#9c7252" stroke="#1a0f08" stroke-width="1.1" stroke-linejoin="round"/>
<polygon points="396.6,228.2 421.7,242.7 446.8,228.2 421.7,213.7" fill="#c38f66" stroke="#1a0f08" stroke-width="1.1" stroke-linejoin="round"/>
<polygon points="396.6,228.2 421.7,242.7 421.7,256.7 396.6,242.2" fill="#5b4433" stroke="#1a0f08" stroke-width="1.1" stroke-linejoin="round"/>
<polygon points="421.7,242.7 446.8,228.2 446.8,242.2 421.7,256.7" fill="#9c7252" stroke="#1a0f08" stroke-width="1.1" stroke-linejoin="round"/>
<polygon points="727.4,419.2 752.5,433.7 777.6,419.2 752.5,404.7" fill="#c38f66" stroke="#1a0f08" stroke-width="1.1" stroke-linejoin="round"/>
<polygon points="727.4,419.2 752.5,433.7 752.5,447.7 727.4,433.2" fill="#5b4433" stroke="#1a0f08" stroke-width="1.1" stroke-linejoin="round"/>
<polygon points="752.5,433.7 777.6,419.2 777.6,433.2 752.5,447.7" fill="#9c7252" stroke="#1a0f08" stroke-width="1.1" stroke-linejoin="round"/>
<polygon points="129.0,383.7 154.1,398.2 179.2,383.7 154.1,369.2" fill="#c38f66" stroke="#1a0f08" stroke-width="1.1" stroke-linejoin="round"/>
<polygon points="129.0,383.7 154.1,398.2 154.1,412.2 129.0,397.7" fill="#5b4433" stroke="#1a0f08" stroke-width="1.1" stroke-linejoin="round"/>
<polygon points="154.1,398.2 179.2,383.7 179.2,397.7 154.1,412.2" fill="#9c7252" stroke="#1a0f08" stroke-width="1.1" stroke-linejoin="round"/>
<polygon points="458.9,574.2 484.1,588.7 509.2,574.2 484.1,559.7" fill="#c38f66" stroke="#1a0f08" stroke-width="1.1" stroke-linejoin="round"/>
<polygon points="458.9,574.2 484.1,588.7 484.1,602.7 458.9,588.2" fill="#5b4433" stroke="#1a0f08" stroke-width="1.1" stroke-linejoin="round"/>
<polygon points="484.1,588.7 509.2,574.2 509.2,588.2 484.1,602.7" fill="#9c7252" stroke="#1a0f08" stroke-width="1.1" stroke-linejoin="round"/>
<circle cx="704.5" cy="814" r="28.5" fill="none" stroke="#111" stroke-width="1.1"/>
<text x="695" y="868" font-size="17.5" fill="#111">A</text>
</g>
<!-- SEPARATOR -->
<g id="sep">
<polygon points="825.5,329.8 844.8,340.9 867.3,327.9 848.0,316.8" fill="#c38f66" stroke="#111" stroke-width="1.0" stroke-linejoin="round"/>
<polygon points="825.5,329.8 844.8,340.9 844.8,348.9 825.5,337.8" fill="#6e5040" stroke="#111" stroke-width="1.0" stroke-linejoin="round"/>
<polygon points="844.8,340.9 867.3,327.9 867.3,335.9 844.8,348.9" fill="#a97c5a" stroke="#111" stroke-width="1.0" stroke-linejoin="round"/>
<polygon points="1270.6,72.8 1289.9,84.0 1312.4,70.9 1293.1,59.8" fill="#c38f66" stroke="#111" stroke-width="1.0" stroke-linejoin="round"/>
<polygon points="1270.6,72.8 1289.9,84.0 1289.9,92.0 1270.6,80.8" fill="#6e5040" stroke="#111" stroke-width="1.0" stroke-linejoin="round"/>
<polygon points="1289.9,84.0 1312.4,70.9 1312.4,78.9 1289.9,92.0" fill="#a97c5a" stroke="#111" stroke-width="1.0" stroke-linejoin="round"/>
<polygon points="971.8,245.3 991.1,256.4 1005.6,248.1 986.3,237.0" fill="#c38f66" stroke="#111" stroke-width="1.0" stroke-linejoin="round"/>
<polygon points="971.8,245.3 991.1,256.4 991.1,292.4 971.8,281.3" fill="#6e5040" stroke="#111" stroke-width="1.0" stroke-linejoin="round"/>
<polygon points="991.1,256.4 1005.6,248.1 1005.6,284.1 991.1,292.4" fill="#a97c5a" stroke="#111" stroke-width="1.0" stroke-linejoin="round"/>
<polygon points="1124.0,157.5 1143.3,168.6 1157.8,160.3 1138.4,149.1" fill="#c38f66" stroke="#111" stroke-width="1.0" stroke-linejoin="round"/>
<polygon points="1124.0,157.5 1143.3,168.6 1143.3,204.6 1124.0,193.4" fill="#6e5040" stroke="#111" stroke-width="1.0" stroke-linejoin="round"/>
<polygon points="1143.3,168.6 1157.8,160.3 1157.8,196.2 1143.3,204.6" fill="#a97c5a" stroke="#111" stroke-width="1.0" stroke-linejoin="round"/>
<polygon points="819.4,325.8 838.7,336.9 1320.2,58.9 1300.9,47.8" fill="#c38f66" stroke="#111" stroke-width="1.0" stroke-linejoin="round"/>
<polygon points="819.4,325.8 838.7,336.9 838.7,344.4 819.4,333.3" fill="#6e5040" stroke="#111" stroke-width="1.0" stroke-linejoin="round"/>
<polygon points="838.7,336.9 1320.2,58.9 1320.2,66.4 838.7,344.4" fill="#a67a58" stroke="#111" stroke-width="1.0" stroke-linejoin="round"/>
<polygon points="819.4,317.9 838.7,329.0 1320.2,51.0 1300.9,39.9" fill="#0b0b0b" stroke="#111" stroke-width="1.0" stroke-linejoin="round"/>
<polygon points="819.4,317.9 838.7,329.0 838.7,336.9 819.4,325.8" fill="#0b0b0b" stroke="#111" stroke-width="1.0" stroke-linejoin="round"/>
<polygon points="838.7,329.0 1320.2,51.0 1320.2,58.9 838.7,336.9" fill="#0b0b0b" stroke="#111" stroke-width="1.0" stroke-linejoin="round"/>
<polygon points="819.4,314.5 838.7,325.6 938.3,268.1 919.0,257.0" fill="#0b0b0b" stroke="#111" stroke-width="1.0" stroke-linejoin="round"/>
<polygon points="819.4,314.5 838.7,325.6 838.7,329.0 819.4,317.9" fill="#0b0b0b" stroke="#111" stroke-width="1.0" stroke-linejoin="round"/>
<polygon points="838.7,325.6 938.3,268.1 938.3,271.5 838.7,329.0" fill="#0b0b0b" stroke="#111" stroke-width="1.0" stroke-linejoin="round"/>
<polygon points="919.0,257.0 938.3,268.1 944.3,264.7 925.0,253.5" fill="#0b0b0b" stroke="#111" stroke-width="1.0" stroke-linejoin="round"/>
<polygon points="919.0,257.0 938.3,268.1 938.3,271.5 919.0,260.4" fill="#0b0b0b" stroke="#111" stroke-width="1.0" stroke-linejoin="round"/>
<polygon points="938.3,268.1 944.3,264.7 944.3,268.1 938.3,271.5" fill="#0b0b0b" stroke="#111" stroke-width="1.0" stroke-linejoin="round"/>
<polygon points="927.3,252.2 946.6,263.3 952.6,259.9 933.3,248.7" fill="#0b0b0b" stroke="#111" stroke-width="1.0" stroke-linejoin="round"/>
<polygon points="927.3,252.2 946.6,263.3 946.6,266.7 927.3,255.6" fill="#0b0b0b" stroke="#111" stroke-width="1.0" stroke-linejoin="round"/>
<polygon points="946.6,263.3 952.6,259.9 952.6,263.3 946.6,266.7" fill="#0b0b0b" stroke="#111" stroke-width="1.0" stroke-linejoin="round"/>
<polygon points="935.7,247.4 955.0,258.5 961.0,255.1 941.7,243.9" fill="#0b0b0b" stroke="#111" stroke-width="1.0" stroke-linejoin="round"/>
<polygon points="935.7,247.4 955.0,258.5 955.0,261.9 935.7,250.8" fill="#0b0b0b" stroke="#111" stroke-width="1.0" stroke-linejoin="round"/>
<polygon points="955.0,258.5 961.0,255.1 961.0,258.5 955.0,261.9" fill="#0b0b0b" stroke="#111" stroke-width="1.0" stroke-linejoin="round"/>
<polygon points="944.0,242.6 963.3,253.7 969.3,250.2 950.0,239.1" fill="#0b0b0b" stroke="#111" stroke-width="1.0" stroke-linejoin="round"/>
<polygon points="944.0,242.6 963.3,253.7 963.3,257.1 944.0,246.0" fill="#0b0b0b" stroke="#111" stroke-width="1.0" stroke-linejoin="round"/>
<polygon points="963.3,253.7 969.3,250.2 969.3,253.6 963.3,257.1" fill="#0b0b0b" stroke="#111" stroke-width="1.0" stroke-linejoin="round"/>
<polygon points="952.3,237.7 971.7,248.9 977.7,245.4 958.3,234.3" fill="#0b0b0b" stroke="#111" stroke-width="1.0" stroke-linejoin="round"/>
<polygon points="952.3,237.7 971.7,248.9 971.7,252.3 952.3,241.1" fill="#0b0b0b" stroke="#111" stroke-width="1.0" stroke-linejoin="round"/>
<polygon points="971.7,248.9 977.7,245.4 977.7,248.8 971.7,252.3" fill="#0b0b0b" stroke="#111" stroke-width="1.0" stroke-linejoin="round"/>
<polygon points="960.7,232.9 980.0,244.1 986.0,240.6 966.7,229.5" fill="#0b0b0b" stroke="#111" stroke-width="1.0" stroke-linejoin="round"/>
<polygon points="960.7,232.9 980.0,244.1 980.0,247.5 960.7,236.3" fill="#0b0b0b" stroke="#111" stroke-width="1.0" stroke-linejoin="round"/>
<polygon points="980.0,244.1 986.0,240.6 986.0,244.0 980.0,247.5" fill="#0b0b0b" stroke="#111" stroke-width="1.0" stroke-linejoin="round"/>
<polygon points="969.0,228.1 988.3,239.3 994.3,235.8 975.0,224.7" fill="#0b0b0b" stroke="#111" stroke-width="1.0" stroke-linejoin="round"/>
<polygon points="969.0,228.1 988.3,239.3 988.3,242.7 969.0,231.5" fill="#0b0b0b" stroke="#111" stroke-width="1.0" stroke-linejoin="round"/>
<polygon points="988.3,239.3 994.3,235.8 994.3,239.2 988.3,242.7" fill="#0b0b0b" stroke="#111" stroke-width="1.0" stroke-linejoin="round"/>
<polygon points="977.4,223.3 996.7,234.5 1002.7,231.0 983.4,219.8" fill="#0b0b0b" stroke="#111" stroke-width="1.0" stroke-linejoin="round"/>
<polygon points="977.4,223.3 996.7,234.5 996.7,237.9 977.4,226.7" fill="#0b0b0b" stroke="#111" stroke-width="1.0" stroke-linejoin="round"/>
<polygon points="996.7,234.5 1002.7,231.0 1002.7,234.4 996.7,237.9" fill="#0b0b0b" stroke="#111" stroke-width="1.0" stroke-linejoin="round"/>
<polygon points="985.7,218.5 1005.0,229.6 1011.0,226.2 991.7,215.0" fill="#0b0b0b" stroke="#111" stroke-width="1.0" stroke-linejoin="round"/>
<polygon points="985.7,218.5 1005.0,229.6 1005.0,233.0 985.7,221.9" fill="#0b0b0b" stroke="#111" stroke-width="1.0" stroke-linejoin="round"/>
<polygon points="1005.0,229.6 1011.0,226.2 1011.0,229.6 1005.0,233.0" fill="#0b0b0b" stroke="#111" stroke-width="1.0" stroke-linejoin="round"/>
<polygon points="994.0,213.7 1013.3,224.8 1019.4,221.4 1000.0,210.2" fill="#0b0b0b" stroke="#111" stroke-width="1.0" stroke-linejoin="round"/>
<polygon points="994.0,213.7 1013.3,224.8 1013.3,228.2 994.0,217.1" fill="#0b0b0b" stroke="#111" stroke-width="1.0" stroke-linejoin="round"/>
<polygon points="1013.3,224.8 1019.4,221.4 1019.4,224.8 1013.3,228.2" fill="#0b0b0b" stroke="#111" stroke-width="1.0" stroke-linejoin="round"/>
<polygon points="1002.4,208.9 1021.7,220.0 1027.7,216.5 1008.4,205.4" fill="#0b0b0b" stroke="#111" stroke-width="1.0" stroke-linejoin="round"/>
<polygon points="1002.4,208.9 1021.7,220.0 1021.7,223.4 1002.4,212.3" fill="#0b0b0b" stroke="#111" stroke-width="1.0" stroke-linejoin="round"/>
<polygon points="1021.7,220.0 1027.7,216.5 1027.7,219.9 1021.7,223.4" fill="#0b0b0b" stroke="#111" stroke-width="1.0" stroke-linejoin="round"/>
<polygon points="1010.7,204.0 1030.0,215.2 1036.0,211.7 1016.7,200.6" fill="#0b0b0b" stroke="#111" stroke-width="1.0" stroke-linejoin="round"/>
<polygon points="1010.7,204.0 1030.0,215.2 1030.0,218.6 1010.7,207.4" fill="#0b0b0b" stroke="#111" stroke-width="1.0" stroke-linejoin="round"/>
<polygon points="1030.0,215.2 1036.0,211.7 1036.0,215.1 1030.0,218.6" fill="#0b0b0b" stroke="#111" stroke-width="1.0" stroke-linejoin="round"/>
<polygon points="1019.0,199.2 1038.4,210.4 1044.4,206.9 1025.1,195.8" fill="#0b0b0b" stroke="#111" stroke-width="1.0" stroke-linejoin="round"/>
<polygon points="1019.0,199.2 1038.4,210.4 1038.4,213.8 1019.0,202.6" fill="#0b0b0b" stroke="#111" stroke-width="1.0" stroke-linejoin="round"/>
<polygon points="1038.4,210.4 1044.4,206.9 1044.4,210.3 1038.4,213.8" fill="#0b0b0b" stroke="#111" stroke-width="1.0" stroke-linejoin="round"/>
<polygon points="1027.4,194.4 1046.7,205.6 1052.7,202.1 1033.4,191.0" fill="#0b0b0b" stroke="#111" stroke-width="1.0" stroke-linejoin="round"/>
<polygon points="1027.4,194.4 1046.7,205.6 1046.7,209.0 1027.4,197.8" fill="#0b0b0b" stroke="#111" stroke-width="1.0" stroke-linejoin="round"/>
<polygon points="1046.7,205.6 1052.7,202.1 1052.7,205.5 1046.7,209.0" fill="#0b0b0b" stroke="#111" stroke-width="1.0" stroke-linejoin="round"/>
<polygon points="1035.7,189.6 1055.0,200.8 1061.0,197.3 1041.7,186.1" fill="#0b0b0b" stroke="#111" stroke-width="1.0" stroke-linejoin="round"/>
<polygon points="1035.7,189.6 1055.0,200.8 1055.0,204.2 1035.7,193.0" fill="#0b0b0b" stroke="#111" stroke-width="1.0" stroke-linejoin="round"/>
<polygon points="1055.0,200.8 1061.0,197.3 1061.0,200.7 1055.0,204.2" fill="#0b0b0b" stroke="#111" stroke-width="1.0" stroke-linejoin="round"/>
<polygon points="1044.1,184.8 1063.4,195.9 1069.4,192.5 1050.1,181.3" fill="#0b0b0b" stroke="#111" stroke-width="1.0" stroke-linejoin="round"/>
<polygon points="1044.1,184.8 1063.4,195.9 1063.4,199.3 1044.1,188.2" fill="#0b0b0b" stroke="#111" stroke-width="1.0" stroke-linejoin="round"/>
<polygon points="1063.4,195.9 1069.4,192.5 1069.4,195.9 1063.4,199.3" fill="#0b0b0b" stroke="#111" stroke-width="1.0" stroke-linejoin="round"/>
<polygon points="1052.4,180.0 1071.7,191.1 1077.7,187.7 1058.4,176.5" fill="#0b0b0b" stroke="#111" stroke-width="1.0" stroke-linejoin="round"/>
<polygon points="1052.4,180.0 1071.7,191.1 1071.7,194.5 1052.4,183.4" fill="#0b0b0b" stroke="#111" stroke-width="1.0" stroke-linejoin="round"/>
<polygon points="1071.7,191.1 1077.7,187.7 1077.7,191.1 1071.7,194.5" fill="#0b0b0b" stroke="#111" stroke-width="1.0" stroke-linejoin="round"/>
<polygon points="1060.7,175.2 1080.1,186.3 1086.1,182.8 1066.7,171.7" fill="#0b0b0b" stroke="#111" stroke-width="1.0" stroke-linejoin="round"/>
<polygon points="1060.7,175.2 1080.1,186.3 1080.1,189.7 1060.7,178.6" fill="#0b0b0b" stroke="#111" stroke-width="1.0" stroke-linejoin="round"/>
<polygon points="1080.1,186.3 1086.1,182.8 1086.1,186.2 1080.1,189.7" fill="#0b0b0b" stroke="#111" stroke-width="1.0" stroke-linejoin="round"/>
<polygon points="1069.1,170.3 1088.4,181.5 1094.4,178.0 1075.1,166.9" fill="#0b0b0b" stroke="#111" stroke-width="1.0" stroke-linejoin="round"/>
<polygon points="1069.1,170.3 1088.4,181.5 1088.4,184.9 1069.1,173.7" fill="#0b0b0b" stroke="#111" stroke-width="1.0" stroke-linejoin="round"/>
<polygon points="1088.4,181.5 1094.4,178.0 1094.4,181.4 1088.4,184.9" fill="#0b0b0b" stroke="#111" stroke-width="1.0" stroke-linejoin="round"/>
<polygon points="1077.4,165.5 1096.7,176.7 1102.7,173.2 1083.4,162.1" fill="#0b0b0b" stroke="#111" stroke-width="1.0" stroke-linejoin="round"/>
<polygon points="1077.4,165.5 1096.7,176.7 1096.7,180.1 1077.4,168.9" fill="#0b0b0b" stroke="#111" stroke-width="1.0" stroke-linejoin="round"/>
<polygon points="1096.7,176.7 1102.7,173.2 1102.7,176.6 1096.7,180.1" fill="#0b0b0b" stroke="#111" stroke-width="1.0" stroke-linejoin="round"/>
<polygon points="1085.8,160.7 1105.1,171.9 1111.1,168.4 1091.8,157.3" fill="#0b0b0b" stroke="#111" stroke-width="1.0" stroke-linejoin="round"/>
<polygon points="1085.8,160.7 1105.1,171.9 1105.1,175.3 1085.8,164.1" fill="#0b0b0b" stroke="#111" stroke-width="1.0" stroke-linejoin="round"/>
<polygon points="1105.1,171.9 1111.1,168.4 1111.1,171.8 1105.1,175.3" fill="#0b0b0b" stroke="#111" stroke-width="1.0" stroke-linejoin="round"/>
<polygon points="1094.1,155.9 1113.4,167.1 1119.4,163.6 1100.1,152.4" fill="#0b0b0b" stroke="#111" stroke-width="1.0" stroke-linejoin="round"/>
<polygon points="1094.1,155.9 1113.4,167.1 1113.4,170.5 1094.1,159.3" fill="#0b0b0b" stroke="#111" stroke-width="1.0" stroke-linejoin="round"/>
<polygon points="1113.4,167.1 1119.4,163.6 1119.4,167.0 1113.4,170.5" fill="#0b0b0b" stroke="#111" stroke-width="1.0" stroke-linejoin="round"/>
<polygon points="1102.4,151.1 1121.7,162.2 1127.7,158.8 1108.4,147.6" fill="#0b0b0b" stroke="#111" stroke-width="1.0" stroke-linejoin="round"/>
<polygon points="1102.4,151.1 1121.7,162.2 1121.7,165.6 1102.4,154.5" fill="#0b0b0b" stroke="#111" stroke-width="1.0" stroke-linejoin="round"/>
<polygon points="1121.7,162.2 1127.7,158.8 1127.7,162.2 1121.7,165.6" fill="#0b0b0b" stroke="#111" stroke-width="1.0" stroke-linejoin="round"/>
<polygon points="1110.8,146.3 1130.1,157.4 1136.1,154.0 1116.8,142.8" fill="#0b0b0b" stroke="#111" stroke-width="1.0" stroke-linejoin="round"/>
<polygon points="1110.8,146.3 1130.1,157.4 1130.1,160.8 1110.8,149.7" fill="#0b0b0b" stroke="#111" stroke-width="1.0" stroke-linejoin="round"/>
<polygon points="1130.1,157.4 1136.1,154.0 1136.1,157.4 1130.1,160.8" fill="#0b0b0b" stroke="#111" stroke-width="1.0" stroke-linejoin="round"/>
<polygon points="1119.1,141.5 1138.4,152.6 1144.4,149.1 1125.1,138.0" fill="#0b0b0b" stroke="#111" stroke-width="1.0" stroke-linejoin="round"/>
<polygon points="1119.1,141.5 1138.4,152.6 1138.4,156.0 1119.1,144.9" fill="#0b0b0b" stroke="#111" stroke-width="1.0" stroke-linejoin="round"/>
<polygon points="1138.4,152.6 1144.4,149.1 1144.4,152.5 1138.4,156.0" fill="#0b0b0b" stroke="#111" stroke-width="1.0" stroke-linejoin="round"/>
<polygon points="1127.4,136.7 1146.8,147.8 1152.8,144.3 1133.4,133.2" fill="#0b0b0b" stroke="#111" stroke-width="1.0" stroke-linejoin="round"/>
<polygon points="1127.4,136.7 1146.8,147.8 1146.8,151.2 1127.4,140.1" fill="#0b0b0b" stroke="#111" stroke-width="1.0" stroke-linejoin="round"/>
<polygon points="1146.8,147.8 1152.8,144.3 1152.8,147.7 1146.8,151.2" fill="#0b0b0b" stroke="#111" stroke-width="1.0" stroke-linejoin="round"/>
<polygon points="1135.8,131.8 1155.1,143.0 1161.1,139.5 1141.8,128.4" fill="#0b0b0b" stroke="#111" stroke-width="1.0" stroke-linejoin="round"/>
<polygon points="1135.8,131.8 1155.1,143.0 1155.1,146.4 1135.8,135.2" fill="#0b0b0b" stroke="#111" stroke-width="1.0" stroke-linejoin="round"/>
<polygon points="1155.1,143.0 1161.1,139.5 1161.1,142.9 1155.1,146.4" fill="#0b0b0b" stroke="#111" stroke-width="1.0" stroke-linejoin="round"/>
<polygon points="1144.1,127.0 1163.4,138.2 1169.4,134.7 1150.1,123.6" fill="#0b0b0b" stroke="#111" stroke-width="1.0" stroke-linejoin="round"/>
<polygon points="1144.1,127.0 1163.4,138.2 1163.4,141.6 1144.1,130.4" fill="#0b0b0b" stroke="#111" stroke-width="1.0" stroke-linejoin="round"/>
<polygon points="1163.4,138.2 1169.4,134.7 1169.4,138.1 1163.4,141.6" fill="#0b0b0b" stroke="#111" stroke-width="1.0" stroke-linejoin="round"/>
<polygon points="1152.5,122.2 1171.8,133.4 1177.8,129.9 1158.5,118.7" fill="#0b0b0b" stroke="#111" stroke-width="1.0" stroke-linejoin="round"/>
<polygon points="1152.5,122.2 1171.8,133.4 1171.8,136.8 1152.5,125.6" fill="#0b0b0b" stroke="#111" stroke-width="1.0" stroke-linejoin="round"/>
<polygon points="1171.8,133.4 1177.8,129.9 1177.8,133.3 1171.8,136.8" fill="#0b0b0b" stroke="#111" stroke-width="1.0" stroke-linejoin="round"/>
<polygon points="1160.8,117.4 1180.1,128.5 1186.1,125.1 1166.8,113.9" fill="#0b0b0b" stroke="#111" stroke-width="1.0" stroke-linejoin="round"/>
<polygon points="1160.8,117.4 1180.1,128.5 1180.1,131.9 1160.8,120.8" fill="#0b0b0b" stroke="#111" stroke-width="1.0" stroke-linejoin="round"/>
<polygon points="1180.1,128.5 1186.1,125.1 1186.1,128.5 1180.1,131.9" fill="#0b0b0b" stroke="#111" stroke-width="1.0" stroke-linejoin="round"/>
<polygon points="1169.1,112.6 1188.4,123.7 1194.4,120.3 1175.1,109.1" fill="#0b0b0b" stroke="#111" stroke-width="1.0" stroke-linejoin="round"/>
<polygon points="1169.1,112.6 1188.4,123.7 1188.4,127.1 1169.1,116.0" fill="#0b0b0b" stroke="#111" stroke-width="1.0" stroke-linejoin="round"/>
<polygon points="1188.4,123.7 1194.4,120.3 1194.4,123.7 1188.4,127.1" fill="#0b0b0b" stroke="#111" stroke-width="1.0" stroke-linejoin="round"/>
<polygon points="1177.5,107.8 1196.8,118.9 1202.8,115.5 1183.5,104.3" fill="#0b0b0b" stroke="#111" stroke-width="1.0" stroke-linejoin="round"/>
<polygon points="1177.5,107.8 1196.8,118.9 1196.8,122.3 1177.5,111.2" fill="#0b0b0b" stroke="#111" stroke-width="1.0" stroke-linejoin="round"/>
<polygon points="1196.8,118.9 1202.8,115.5 1202.8,118.9 1196.8,122.3" fill="#0b0b0b" stroke="#111" stroke-width="1.0" stroke-linejoin="round"/>
<polygon points="1185.8,103.0 1205.1,114.1 1211.1,110.6 1191.8,99.5" fill="#0b0b0b" stroke="#111" stroke-width="1.0" stroke-linejoin="round"/>
<polygon points="1185.8,103.0 1205.1,114.1 1205.1,117.5 1185.8,106.4" fill="#0b0b0b" stroke="#111" stroke-width="1.0" stroke-linejoin="round"/>
<polygon points="1205.1,114.1 1211.1,110.6 1211.1,114.0 1205.1,117.5" fill="#0b0b0b" stroke="#111" stroke-width="1.0" stroke-linejoin="round"/>
<polygon points="1194.1,98.1 1213.5,109.3 1219.5,105.8 1200.2,94.7" fill="#0b0b0b" stroke="#111" stroke-width="1.0" stroke-linejoin="round"/>
<polygon points="1194.1,98.1 1213.5,109.3 1213.5,112.7 1194.1,101.5" fill="#0b0b0b" stroke="#111" stroke-width="1.0" stroke-linejoin="round"/>
<polygon points="1213.5,109.3 1219.5,105.8 1219.5,109.2 1213.5,112.7" fill="#0b0b0b" stroke="#111" stroke-width="1.0" stroke-linejoin="round"/>
<polygon points="1202.5,93.3 1221.8,104.5 1227.8,101.0 1208.5,89.9" fill="#0b0b0b" stroke="#111" stroke-width="1.0" stroke-linejoin="round"/>
<polygon points="1202.5,93.3 1221.8,104.5 1221.8,107.9 1202.5,96.7" fill="#0b0b0b" stroke="#111" stroke-width="1.0" stroke-linejoin="round"/>
<polygon points="1221.8,104.5 1227.8,101.0 1227.8,104.4 1221.8,107.9" fill="#0b0b0b" stroke="#111" stroke-width="1.0" stroke-linejoin="round"/>
<polygon points="1210.8,88.5 1230.1,99.7 1236.1,96.2 1216.8,85.0" fill="#0b0b0b" stroke="#111" stroke-width="1.0" stroke-linejoin="round"/>
<polygon points="1210.8,88.5 1230.1,99.7 1230.1,103.1 1210.8,91.9" fill="#0b0b0b" stroke="#111" stroke-width="1.0" stroke-linejoin="round"/>
<polygon points="1230.1,99.7 1236.1,96.2 1236.1,99.6 1230.1,103.1" fill="#0b0b0b" stroke="#111" stroke-width="1.0" stroke-linejoin="round"/>
<polygon points="1219.2,83.7 1238.5,94.8 1244.5,91.4 1225.2,80.2" fill="#0b0b0b" stroke="#111" stroke-width="1.0" stroke-linejoin="round"/>
<polygon points="1219.2,83.7 1238.5,94.8 1238.5,98.2 1219.2,87.1" fill="#0b0b0b" stroke="#111" stroke-width="1.0" stroke-linejoin="round"/>
<polygon points="1238.5,94.8 1244.5,91.4 1244.5,94.8 1238.5,98.2" fill="#0b0b0b" stroke="#111" stroke-width="1.0" stroke-linejoin="round"/>
<polygon points="1227.5,78.9 1246.8,90.0 1252.8,86.6 1233.5,75.4" fill="#0b0b0b" stroke="#111" stroke-width="1.0" stroke-linejoin="round"/>
<polygon points="1227.5,78.9 1246.8,90.0 1246.8,93.4 1227.5,82.3" fill="#0b0b0b" stroke="#111" stroke-width="1.0" stroke-linejoin="round"/>
<polygon points="1246.8,90.0 1252.8,86.6 1252.8,90.0 1246.8,93.4" fill="#0b0b0b" stroke="#111" stroke-width="1.0" stroke-linejoin="round"/>
<polygon points="1235.8,74.1 1255.1,85.2 1261.2,81.8 1241.8,70.6" fill="#0b0b0b" stroke="#111" stroke-width="1.0" stroke-linejoin="round"/>
<polygon points="1235.8,74.1 1255.1,85.2 1255.1,88.6 1235.8,77.5" fill="#0b0b0b" stroke="#111" stroke-width="1.0" stroke-linejoin="round"/>
<polygon points="1255.1,85.2 1261.2,81.8 1261.2,85.2 1255.1,88.6" fill="#0b0b0b" stroke="#111" stroke-width="1.0" stroke-linejoin="round"/>
<polygon points="1244.2,69.3 1263.5,80.4 1269.5,76.9 1250.2,65.8" fill="#0b0b0b" stroke="#111" stroke-width="1.0" stroke-linejoin="round"/>
<polygon points="1244.2,69.3 1263.5,80.4 1263.5,83.8 1244.2,72.7" fill="#0b0b0b" stroke="#111" stroke-width="1.0" stroke-linejoin="round"/>
<polygon points="1263.5,80.4 1269.5,76.9 1269.5,80.3 1263.5,83.8" fill="#0b0b0b" stroke="#111" stroke-width="1.0" stroke-linejoin="round"/>
<polygon points="1252.5,64.4 1271.8,75.6 1277.8,72.1 1258.5,61.0" fill="#0b0b0b" stroke="#111" stroke-width="1.0" stroke-linejoin="round"/>
<polygon points="1252.5,64.4 1271.8,75.6 1271.8,79.0 1252.5,67.8" fill="#0b0b0b" stroke="#111" stroke-width="1.0" stroke-linejoin="round"/>
<polygon points="1271.8,75.6 1277.8,72.1 1277.8,75.5 1271.8,79.0" fill="#0b0b0b" stroke="#111" stroke-width="1.0" stroke-linejoin="round"/>
<polygon points="1260.9,59.6 1280.2,70.8 1286.2,67.3 1266.9,56.2" fill="#0b0b0b" stroke="#111" stroke-width="1.0" stroke-linejoin="round"/>
<polygon points="1260.9,59.6 1280.2,70.8 1280.2,74.2 1260.9,63.0" fill="#0b0b0b" stroke="#111" stroke-width="1.0" stroke-linejoin="round"/>
<polygon points="1280.2,70.8 1286.2,67.3 1286.2,70.7 1280.2,74.2" fill="#0b0b0b" stroke="#111" stroke-width="1.0" stroke-linejoin="round"/>
<polygon points="1269.2,54.8 1288.5,66.0 1294.5,62.5 1275.2,51.3" fill="#0b0b0b" stroke="#111" stroke-width="1.0" stroke-linejoin="round"/>
<polygon points="1269.2,54.8 1288.5,66.0 1288.5,69.4 1269.2,58.2" fill="#0b0b0b" stroke="#111" stroke-width="1.0" stroke-linejoin="round"/>
<polygon points="1288.5,66.0 1294.5,62.5 1294.5,65.9 1288.5,69.4" fill="#0b0b0b" stroke="#111" stroke-width="1.0" stroke-linejoin="round"/>
<polygon points="1277.5,50.0 1296.8,61.2 1320.2,47.6 1300.9,36.5" fill="#0b0b0b" stroke="#111" stroke-width="1.0" stroke-linejoin="round"/>
<polygon points="1277.5,50.0 1296.8,61.2 1296.8,64.6 1277.5,53.4" fill="#0b0b0b" stroke="#111" stroke-width="1.0" stroke-linejoin="round"/>
<polygon points="1296.8,61.2 1320.2,47.6 1320.2,51.0 1296.8,64.6" fill="#0b0b0b" stroke="#111" stroke-width="1.0" stroke-linejoin="round"/>
<line x1="944.3" y1="264.7" x2="944.3" y2="270.1" stroke="#444" stroke-width="0.7"/>
<line x1="952.6" y1="259.9" x2="952.6" y2="265.3" stroke="#444" stroke-width="0.7"/>
<line x1="961.0" y1="255.1" x2="961.0" y2="260.5" stroke="#444" stroke-width="0.7"/>
<line x1="969.3" y1="250.2" x2="969.3" y2="255.6" stroke="#444" stroke-width="0.7"/>
<line x1="977.7" y1="245.4" x2="977.7" y2="250.8" stroke="#444" stroke-width="0.7"/>
<line x1="986.0" y1="240.6" x2="986.0" y2="246.0" stroke="#444" stroke-width="0.7"/>
<line x1="994.3" y1="235.8" x2="994.3" y2="241.2" stroke="#444" stroke-width="0.7"/>
<line x1="1002.7" y1="231.0" x2="1002.7" y2="236.4" stroke="#444" stroke-width="0.7"/>
<line x1="1011.0" y1="226.2" x2="1011.0" y2="231.6" stroke="#444" stroke-width="0.7"/>
<line x1="1019.4" y1="221.4" x2="1019.4" y2="226.8" stroke="#444" stroke-width="0.7"/>
<line x1="1027.7" y1="216.5" x2="1027.7" y2="221.9" stroke="#444" stroke-width="0.7"/>
<line x1="1036.0" y1="211.7" x2="1036.0" y2="217.1" stroke="#444" stroke-width="0.7"/>
<line x1="1044.4" y1="206.9" x2="1044.4" y2="212.3" stroke="#444" stroke-width="0.7"/>
<line x1="1052.7" y1="202.1" x2="1052.7" y2="207.5" stroke="#444" stroke-width="0.7"/>
<line x1="1061.0" y1="197.3" x2="1061.0" y2="202.7" stroke="#444" stroke-width="0.7"/>
<line x1="1069.4" y1="192.5" x2="1069.4" y2="197.9" stroke="#444" stroke-width="0.7"/>
<line x1="1077.7" y1="187.7" x2="1077.7" y2="193.1" stroke="#444" stroke-width="0.7"/>
<line x1="1086.1" y1="182.8" x2="1086.1" y2="188.2" stroke="#444" stroke-width="0.7"/>
<line x1="1094.4" y1="178.0" x2="1094.4" y2="183.4" stroke="#444" stroke-width="0.7"/>
<line x1="1102.7" y1="173.2" x2="1102.7" y2="178.6" stroke="#444" stroke-width="0.7"/>
<line x1="1111.1" y1="168.4" x2="1111.1" y2="173.8" stroke="#444" stroke-width="0.7"/>
<line x1="1119.4" y1="163.6" x2="1119.4" y2="169.0" stroke="#444" stroke-width="0.7"/>
<line x1="1127.7" y1="158.8" x2="1127.7" y2="164.2" stroke="#444" stroke-width="0.7"/>
<line x1="1136.1" y1="154.0" x2="1136.1" y2="159.4" stroke="#444" stroke-width="0.7"/>
<line x1="1144.4" y1="149.1" x2="1144.4" y2="154.5" stroke="#444" stroke-width="0.7"/>
<line x1="1152.8" y1="144.3" x2="1152.8" y2="149.7" stroke="#444" stroke-width="0.7"/>
<line x1="1161.1" y1="139.5" x2="1161.1" y2="144.9" stroke="#444" stroke-width="0.7"/>
<line x1="1169.4" y1="134.7" x2="1169.4" y2="140.1" stroke="#444" stroke-width="0.7"/>
<line x1="1177.8" y1="129.9" x2="1177.8" y2="135.3" stroke="#444" stroke-width="0.7"/>
<line x1="1186.1" y1="125.1" x2="1186.1" y2="130.5" stroke="#444" stroke-width="0.7"/>
<line x1="1194.4" y1="120.3" x2="1194.4" y2="125.7" stroke="#444" stroke-width="0.7"/>
<line x1="1202.8" y1="115.5" x2="1202.8" y2="120.9" stroke="#444" stroke-width="0.7"/>
<line x1="1211.1" y1="110.6" x2="1211.1" y2="116.0" stroke="#444" stroke-width="0.7"/>
<line x1="1219.5" y1="105.8" x2="1219.5" y2="111.2" stroke="#444" stroke-width="0.7"/>
<line x1="1227.8" y1="101.0" x2="1227.8" y2="106.4" stroke="#444" stroke-width="0.7"/>
<line x1="1236.1" y1="96.2" x2="1236.1" y2="101.6" stroke="#444" stroke-width="0.7"/>
<line x1="1244.5" y1="91.4" x2="1244.5" y2="96.8" stroke="#444" stroke-width="0.7"/>
<line x1="1252.8" y1="86.6" x2="1252.8" y2="92.0" stroke="#444" stroke-width="0.7"/>
<line x1="1261.2" y1="81.8" x2="1261.2" y2="87.2" stroke="#444" stroke-width="0.7"/>
<line x1="1269.5" y1="76.9" x2="1269.5" y2="82.3" stroke="#444" stroke-width="0.7"/>
<line x1="1277.8" y1="72.1" x2="1277.8" y2="77.5" stroke="#444" stroke-width="0.7"/>
<line x1="1286.2" y1="67.3" x2="1286.2" y2="72.7" stroke="#444" stroke-width="0.7"/>
<line x1="1294.5" y1="62.5" x2="1294.5" y2="67.9" stroke="#444" stroke-width="0.7"/>
<polygon points="985.9,460.3 996.3,466.3 1375.1,247.6 1364.7,241.6" fill="#c38f66" stroke="#111" stroke-width="1.0" stroke-linejoin="round"/>
<polygon points="985.9,460.3 996.3,466.3 996.3,478.3 985.9,472.3" fill="#6e5040" stroke="#111" stroke-width="1.0" stroke-linejoin="round"/>
<polygon points="996.3,466.3 1375.1,247.6 1375.1,259.6 996.3,478.3" fill="#a67a58" stroke="#111" stroke-width="1.0" stroke-linejoin="round"/>
<polygon points="985.9,456.8 996.3,462.8 1375.1,244.1 1364.7,238.1" fill="#0b0b0b" stroke="#111" stroke-width="1.0" stroke-linejoin="round"/>
<polygon points="985.9,456.8 996.3,462.8 996.3,466.3 985.9,460.3" fill="#0b0b0b" stroke="#111" stroke-width="1.0" stroke-linejoin="round"/>
<polygon points="996.3,462.8 1375.1,244.1 1375.1,247.6 996.3,466.3" fill="#0b0b0b" stroke="#111" stroke-width="1.0" stroke-linejoin="round"/>
<circle cx="1186.4" cy="363.5" r="4.6" fill="#0b0b0b"/>
<line x1="1192.0" y1="365.7" x2="1253.6" y2="389.1" stroke="#222" stroke-width="0.9"/>
<line x1="1191.1" y1="73.2" x2="1204.6" y2="91.2" stroke="#111" stroke-width="0.9"/>
<polygon points="1204.6,91.2 1198.6,86.9 1202.2,84.3" fill="#111" stroke="#111" stroke-width="0.5" stroke-linejoin="round"/>
<circle cx="1182.1" cy="58.8" r="16" fill="#fff" stroke="#222" stroke-width="1.1"/>
<text x="1182.1" y="63.8" font-size="14" text-anchor="middle">27</text>
<line x1="1340.5" y1="93.9" x2="1302.7" y2="84.0" stroke="#111" stroke-width="0.9"/>
<polygon points="1302.7,84.0 1310.0,83.6 1308.9,87.9" fill="#111" stroke="#111" stroke-width="0.5" stroke-linejoin="round"/>
<circle cx="1355.8" cy="98.4" r="16" fill="#fff" stroke="#222" stroke-width="1.1"/>
<text x="1355.8" y="103.4" font-size="14" text-anchor="middle">29</text>
<line x1="1229.8" y1="145.2" x2="1189.3" y2="141.6" stroke="#111" stroke-width="0.9"/>
<polygon points="1189.3,141.6 1196.5,140.0 1196.1,144.4" fill="#111" stroke="#111" stroke-width="0.5" stroke-linejoin="round"/>
<circle cx="1246" cy="146.1" r="16" fill="#fff" stroke="#222" stroke-width="1.1"/>
<text x="1246" y="151.1" font-size="14" text-anchor="middle">26</text>
<line x1="1029.5" y1="258.8" x2="1006.1" y2="265.0" stroke="#111" stroke-width="0.9"/>
<polygon points="1006.1,265.0 1012.3,261.1 1013.4,265.3" fill="#111" stroke="#111" stroke-width="0.5" stroke-linejoin="round"/>
<circle cx="1045" cy="249.5" r="16" fill="#fff" stroke="#222" stroke-width="1.1"/>
<text x="1045" y="254.5" font-size="14" text-anchor="middle">28</text>
<line x1="1379.3" y1="325.7" x2="1350.2" y2="274.8" stroke="#111" stroke-width="0.9"/>
<polygon points="1350.2,274.8 1355.6,279.8 1351.8,282.0" fill="#111" stroke="#111" stroke-width="0.5" stroke-linejoin="round"/>
<circle cx="1387.8" cy="339.6" r="16" fill="#fff" stroke="#222" stroke-width="1.1"/>
<text x="1387.8" y="344.6" font-size="14" text-anchor="middle">30</text>
<line x1="1013.4" y1="412.2" x2="1031.5" y2="429.8" stroke="#111" stroke-width="0.9"/>
<polygon points="1031.5,429.8 1024.9,426.5 1028.0,423.3" fill="#111" stroke="#111" stroke-width="0.5" stroke-linejoin="round"/>
<circle cx="1001" cy="400.2" r="16" fill="#fff" stroke="#222" stroke-width="1.1"/>
<text x="1001" y="405.2" font-size="14" text-anchor="middle">31</text>
<rect x="953.2" y="87.6" width="146.3" height="31.1" rx="15.5" fill="#fff" stroke="#222" stroke-width="1.1"/>
<text x="958" y="109.4" font-size="14.6" textLength="137" lengthAdjust="spacingAndGlyphs">SEPARADOR AVULSO</text>
<line x1="1085.5" y1="118.7" x2="1088.6" y2="160.7" stroke="#111" stroke-width="0.9"/>
<rect x="1252.9" y="378.9" width="126.1" height="33" rx="16.5" fill="#fff" stroke="#222" stroke-width="1.1"/>
<text x="1258" y="400.1" font-size="13.6" textLength="116.6" lengthAdjust="spacingAndGlyphs">TRAVA DA TAMPA</text>
<line x1="819.0" y1="313.5" x2="779.8" y2="291.4" stroke="#444" stroke-width="0.7"/>
<line x1="880.3" y1="235.0" x2="920.8" y2="257.0" stroke="#444" stroke-width="0.7"/>
<line x1="781.0" y1="291.4" x2="879.1" y2="236.2" stroke="#333" stroke-width="0.7"/>
<polygon points="781.0,291.4 785.4,287.1 787.0,289.9" fill="#222" stroke="#222" stroke-width="0.5" stroke-linejoin="round"/>
<polygon points="879.1,236.2 874.7,240.5 873.1,237.7" fill="#222" stroke="#222" stroke-width="0.5" stroke-linejoin="round"/>
<text x="826" y="266" font-size="12.5" font-style="italic" text-anchor="middle" transform="rotate(-30 826 266)">310</text>
<line x1="879.1" y1="236.2" x2="968.6" y2="184.7" stroke="#333" stroke-width="0.7"/>
<polygon points="881.6,233.8 886.0,229.5 887.6,232.2" fill="#222" stroke="#222" stroke-width="0.5" stroke-linejoin="round"/>
<text x="925" y="209" font-size="12" font-style="italic" text-anchor="middle" transform="rotate(-30 925 209)">12 (45-RASGO)</text>
<line x1="940.4" y1="222.7" x2="940.4" y2="243.6" stroke="#444" stroke-width="0.7"/>
<line x1="944.6" y1="219.0" x2="944.6" y2="243.6" stroke="#444" stroke-width="0.7"/>
<line x1="923.3" y1="233.8" x2="957.6" y2="215.4" stroke="#333" stroke-width="0.7"/>
<polygon points="940.4,225.0 935.8,229.2 934.3,226.3" fill="#222" stroke="#222" stroke-width="0.5" stroke-linejoin="round"/>
<polygon points="944.6,222.0 949.2,217.9 950.7,220.7" fill="#222" stroke="#222" stroke-width="0.5" stroke-linejoin="round"/>
<text x="931" y="228" font-size="12" font-style="italic" text-anchor="middle" transform="rotate(-30 931 228)">15</text>
<line x1="868.1" y1="336.7" x2="868.1" y2="393.1" stroke="#444" stroke-width="0.7"/>
<line x1="991.9" y1="292.6" x2="991.9" y2="327.0" stroke="#444" stroke-width="0.7"/>
<line x1="868.1" y1="391.9" x2="991.9" y2="323.3" stroke="#333" stroke-width="0.7"/>
<polygon points="868.1,391.9 872.6,387.6 874.1,390.4" fill="#222" stroke="#222" stroke-width="0.5" stroke-linejoin="round"/>
<polygon points="991.9,323.3 987.4,327.6 985.9,324.8" fill="#222" stroke="#222" stroke-width="0.5" stroke-linejoin="round"/>
<text x="930" y="355" font-size="12.5" font-style="italic" text-anchor="middle" transform="rotate(-30 930 355)">393</text>
<line x1="838.7" y1="341.7" x2="838.7" y2="409.1" stroke="#444" stroke-width="0.7"/>
<line x1="844.8" y1="346.6" x2="844.8" y2="406.6" stroke="#444" stroke-width="0.7"/>
<line x1="820.3" y1="420.1" x2="857.0" y2="399.3" stroke="#333" stroke-width="0.7"/>
<polygon points="838.7,409.6 834.3,414.0 832.7,411.2" fill="#222" stroke="#222" stroke-width="0.5" stroke-linejoin="round"/>
<polygon points="844.8,406.2 849.2,401.9 850.8,404.6" fill="#222" stroke="#222" stroke-width="0.5" stroke-linejoin="round"/>
<text x="828" y="412" font-size="12" font-style="italic" text-anchor="middle" transform="rotate(-30 828 412)">20</text>
<line x1="1005.0" y1="265.0" x2="1005.0" y2="312.0" stroke="#444" stroke-width="0.7"/>
<line x1="1140.0" y1="200.0" x2="1140.0" y2="235.0" stroke="#444" stroke-width="0.7"/>
<line x1="1005.0" y1="310.0" x2="1140.0" y2="235.0" stroke="#333" stroke-width="0.7"/>
<polygon points="1005.0,310.0 1009.5,305.7 1011.0,308.5" fill="#222" stroke="#222" stroke-width="0.5" stroke-linejoin="round"/>
<polygon points="1140.0,235.0 1135.5,239.3 1134.0,236.5" fill="#222" stroke="#222" stroke-width="0.5" stroke-linejoin="round"/>
<text x="1073" y="266" font-size="12.5" font-style="italic" text-anchor="middle" transform="rotate(-30 1073 266)">430</text>
<line x1="1155.0" y1="188.0" x2="1155.0" y2="225.0" stroke="#444" stroke-width="0.7"/>
<line x1="1290.1" y1="88.0" x2="1290.1" y2="152.4" stroke="#444" stroke-width="0.7"/>
<line x1="1155.0" y1="225.0" x2="1290.1" y2="149.7" stroke="#333" stroke-width="0.7"/>
<polygon points="1155.0,225.0 1159.5,220.7 1161.0,223.5" fill="#222" stroke="#222" stroke-width="0.5" stroke-linejoin="round"/>
<polygon points="1290.1,149.7 1285.6,154.0 1284.1,151.2" fill="#222" stroke="#222" stroke-width="0.5" stroke-linejoin="round"/>
<text x="1224" y="181" font-size="12.5" font-style="italic" text-anchor="middle" transform="rotate(-30 1224 181)">430</text>
<line x1="1312.2" y1="72.0" x2="1312.2" y2="135.0" stroke="#444" stroke-width="0.7"/>
<line x1="1319.4" y1="60.0" x2="1319.4" y2="130.0" stroke="#444" stroke-width="0.7"/>
<line x1="1300.0" y1="142.5" x2="1339.6" y2="120.0" stroke="#333" stroke-width="0.7"/>
<polygon points="1312.2,135.6 1307.8,139.9 1306.2,137.2" fill="#222" stroke="#222" stroke-width="0.5" stroke-linejoin="round"/>
<polygon points="1319.4,131.5 1323.8,127.1 1325.4,129.9" fill="#222" stroke="#222" stroke-width="0.5" stroke-linejoin="round"/>
<text x="1333" y="121" font-size="12" font-style="italic" text-anchor="middle" transform="rotate(-30 1333 121)">22</text>
</g>
<!-- DETAIL -->
<g id="detail">
<defs><clipPath id="dclip"><circle cx="1204.5" cy="615.7" r="143"/></clipPath></defs>
<g clip-path="url(#dclip)">
<polyline points="1170.0,478.0 1355.0,584.0" fill="none" stroke="#111" stroke-width="1.0" stroke-linejoin="round"/>
<polyline points="1137.0,491.0 1355.0,616.6" fill="none" stroke="#111" stroke-width="1.0" stroke-linejoin="round"/>
<polyline points="1129.0,495.0 1355.0,625.0" fill="none" stroke="#111" stroke-width="1.0" stroke-linejoin="round"/>
<polyline points="1105.7,513.3 1332.0,640.0 1332.0,663.0" fill="none" stroke="#111" stroke-width="1.0" stroke-linejoin="round"/>
<polyline points="1332.0,640.0 1350.0,630.0" fill="none" stroke="#111" stroke-width="1.0" stroke-linejoin="round"/>
<polyline points="1332.0,663.0 1350.0,653.0" fill="none" stroke="#111" stroke-width="1.0" stroke-linejoin="round"/>
<polyline points="1098.3,562.7 1098.3,522.7 1103.7,520.0 1117.0,527.2 1117.0,553.3" fill="none" stroke="#111" stroke-width="1.0" stroke-linejoin="round"/>
<polyline points="1098.3,522.7 1111.0,529.9 1117.0,527.2" fill="none" stroke="#111" stroke-width="1.0" stroke-linejoin="round"/>
<polyline points="1111.0,529.9 1111.0,556.0" fill="none" stroke="#111" stroke-width="1.0" stroke-linejoin="round"/>
<polyline points="1129.7,582.7 1129.7,534.4 1135.0,531.7 1148.3,538.9 1148.3,572.7" fill="none" stroke="#111" stroke-width="1.0" stroke-linejoin="round"/>
<polyline points="1129.7,534.4 1142.3,541.6 1148.3,538.9" fill="none" stroke="#111" stroke-width="1.0" stroke-linejoin="round"/>
<polyline points="1142.3,541.6 1142.3,574.7" fill="none" stroke="#111" stroke-width="1.0" stroke-linejoin="round"/>
<polyline points="1161.7,600.0 1161.7,553.3 1167.0,550.7 1179.7,557.9 1179.7,590.7" fill="none" stroke="#111" stroke-width="1.0" stroke-linejoin="round"/>
<polyline points="1161.7,553.3 1173.7,560.5 1179.7,557.9" fill="none" stroke="#111" stroke-width="1.0" stroke-linejoin="round"/>
<polyline points="1173.7,560.5 1173.7,593.3" fill="none" stroke="#111" stroke-width="1.0" stroke-linejoin="round"/>
<polyline points="1193.0,618.7 1193.0,572.0 1198.3,569.3 1211.7,576.5 1211.7,609.3" fill="none" stroke="#111" stroke-width="1.0" stroke-linejoin="round"/>
<polyline points="1193.0,572.0 1205.7,579.2 1211.7,576.5" fill="none" stroke="#111" stroke-width="1.0" stroke-linejoin="round"/>
<polyline points="1205.7,579.2 1205.7,612.0" fill="none" stroke="#111" stroke-width="1.0" stroke-linejoin="round"/>
<polyline points="1224.3,640.0 1224.3,589.3 1229.7,586.7 1243.0,593.9 1243.0,626.7" fill="none" stroke="#111" stroke-width="1.0" stroke-linejoin="round"/>
<polyline points="1224.3,589.3 1237.0,596.5 1243.0,593.9" fill="none" stroke="#111" stroke-width="1.0" stroke-linejoin="round"/>
<polyline points="1237.0,596.5 1237.0,630.7" fill="none" stroke="#111" stroke-width="1.0" stroke-linejoin="round"/>
<polyline points="1117.0,553.3 1129.7,560.7" fill="none" stroke="#111" stroke-width="1.0" stroke-linejoin="round"/>
<polyline points="1148.3,572.7 1161.7,580.0" fill="none" stroke="#111" stroke-width="1.0" stroke-linejoin="round"/>
<polyline points="1179.7,590.7 1193.0,598.0" fill="none" stroke="#111" stroke-width="1.0" stroke-linejoin="round"/>
<polyline points="1211.7,609.3 1224.3,616.7" fill="none" stroke="#111" stroke-width="1.0" stroke-linejoin="round"/>
<polyline points="1087.0,536.0 1098.3,542.0" fill="none" stroke="#111" stroke-width="1.0" stroke-linejoin="round"/>
<polyline points="1071.3,564.3 1097.9,550.2" fill="none" stroke="#111" stroke-width="1.0" stroke-linejoin="round"/>
<polyline points="1066.2,582.5 1116.6,554.2" fill="none" stroke="#111" stroke-width="1.0" stroke-linejoin="round"/>
<polyline points="1062.8,606.2 1129.1,568.9" fill="none" stroke="#111" stroke-width="1.0" stroke-linejoin="round"/>
<polyline points="1062.3,620.9 1129.1,583.6" fill="none" stroke="#111" stroke-width="1.0" stroke-linejoin="round"/>
<polyline points="1062.3,623.8 1078.7,633.4 1078.7,650.4 1091.7,657.7 1091.7,641.9 1110.4,651.5 1110.4,668.5 1124.0,676.0 1124.0,660.0 1142.0,669.0 1142.0,686.0 1155.0,694.0 1155.0,678.0" fill="none" stroke="#111" stroke-width="1.0" stroke-linejoin="round"/>
<polyline points="1078.7,633.4 1160.8,587.5" fill="none" stroke="#111" stroke-width="1.0" stroke-linejoin="round"/>
<polyline points="1091.7,641.9 1180.0,592.5" fill="none" stroke="#111" stroke-width="1.0" stroke-linejoin="round"/>
<polyline points="1110.4,651.5 1193.0,605.5" fill="none" stroke="#111" stroke-width="1.0" stroke-linejoin="round"/>
<polyline points="1124.0,660.0 1211.7,611.5" fill="none" stroke="#111" stroke-width="1.0" stroke-linejoin="round"/>
<polyline points="1142.0,669.0 1224.3,624.0" fill="none" stroke="#111" stroke-width="1.0" stroke-linejoin="round"/>
<polyline points="1155.0,678.0 1243.0,627.0 1303.0,662.0 1215.0,712.0 1155.0,678.0" fill="none" stroke="#111" stroke-width="1.0" stroke-linejoin="round"/>
<polyline points="1155.0,678.0 1155.0,694.0 1215.0,731.0 1303.0,679.0 1303.0,662.0" fill="none" stroke="#111" stroke-width="1.0" stroke-linejoin="round"/>
<polyline points="1215.0,712.0 1215.0,731.0" fill="none" stroke="#111" stroke-width="1.0" stroke-linejoin="round"/>
<polyline points="1072.0,667.0 1199.0,739.0" fill="none" stroke="#111" stroke-width="1.0" stroke-linejoin="round"/>
<polyline points="1173.0,756.0 1341.0,661.0" fill="none" stroke="#111" stroke-width="1.0" stroke-linejoin="round"/>
<polyline points="1229.0,756.0 1313.0,708.0" fill="none" stroke="#111" stroke-width="1.0" stroke-linejoin="round"/>
<polyline points="1105.0,718.0 1141.0,740.0" fill="none" stroke="#111" stroke-width="1.0" stroke-linejoin="round"/>
<polyline points="1255.0,600.0 1331.0,643.0 1331.0,662.0" fill="none" stroke="#111" stroke-width="1.0" stroke-linejoin="round"/>
<polyline points="1331.0,643.0 1347.0,636.0" fill="none" stroke="#111" stroke-width="1.0" stroke-linejoin="round"/>
<polyline points="1313.0,600.0 1347.0,620.0" fill="none" stroke="#111" stroke-width="1.0" stroke-linejoin="round"/>
<polyline points="1331.0,662.0 1345.0,656.0" fill="none" stroke="#111" stroke-width="1.0" stroke-linejoin="round"/>
<polyline points="1243.0,627.0 1243.0,612.0" fill="none" stroke="#111" stroke-width="1.0" stroke-linejoin="round"/>
<polyline points="1303.0,662.0 1303.0,658.0" fill="none" stroke="#111" stroke-width="1.0" stroke-linejoin="round"/>
</g>
<circle cx="1204.5" cy="615.7" r="143" fill="none" stroke="#111" stroke-width="1.4"/>
<polyline points="1061.3,567.3 1231.3,610.2" fill="none" stroke="#111" stroke-width="1"/>
<polygon points="1231.3,610.2 1218.5,603.6 1216.9,610.1" fill="#111"/>
<circle cx="1045.7" cy="561.7" r="15.8" fill="#fff" stroke="#222" stroke-width="1.1"/>
<text x="1045.7" y="567" font-size="14" text-anchor="middle">7</text>
</g>
<text x="1160.3" y="795" font-size="18" textLength="119.5" lengthAdjust="spacingAndGlyphs" xml:space="preserve">DETALHE  "A"</text>

<!-- TITLE BLOCK -->
<g stroke="#222" fill="none" stroke-width="1.3">
<rect x="832.5" y="891.8" width="641.8" height="142.2" fill="#fff"/>
<path d="M832.5 927.5 H1474.3"/>
<path d="M939.5 927.5 V1034"/>
<path d="M939.5 963.2 H1474.3 M939.5 998.5 H1474.3 M939.5 1016.6 H1224.7"/>
<path d="M1224.7 963.2 V1034 M1349.5 927.5 V1034 M1411.8 927.5 V963.2"/>
</g>
<text class="b" x="843" y="911.7" font-size="12.3" textLength="56.7" lengthAdjust="spacingAndGlyphs">CLIENTE:</text>
<text x="928" y="915.8" font-size="23.6" textLength="103.6" lengthAdjust="spacingAndGlyphs">PEGEOUT</text>
<text class="b" x="945.8" y="976.3" font-size="8.8" textLength="39.7" lengthAdjust="spacingAndGlyphs">TÍTULO:</text>
<text x="997.3" y="980.4" font-size="14" textLength="83.9" lengthAdjust="spacingAndGlyphs">ENGRADADO</text>
<text class="b" x="945.8" y="1009.2" font-size="8.8" textLength="67.3" lengthAdjust="spacingAndGlyphs">DESENHISTA:</text>
<text x="1020.4" y="1012.1" font-size="14" textLength="100" lengthAdjust="spacingAndGlyphs">RAFAEL NUNES</text>
<text class="b" x="945.8" y="1027.3" font-size="8.8" textLength="58.9" lengthAdjust="spacingAndGlyphs">APROVADO:</text>
<text x="1020.4" y="1031.4" font-size="14" textLength="103.8" lengthAdjust="spacingAndGlyphs">RAFAEL NUNES</text>
<text class="b" x="1353.4" y="941.4" font-size="8.8" textLength="35.6" lengthAdjust="spacingAndGlyphs">DEPTO.</text>
<text class="b" x="1353.4" y="953" font-size="8.8" textLength="51.2" lengthAdjust="spacingAndGlyphs">PROJETOS</text>
<text class="b" x="1231.6" y="973.9" font-size="8.8" textLength="40.7" lengthAdjust="spacingAndGlyphs">DES. Nº:</text>
<text class="b" x="1356.4" y="973.9" font-size="8.8" textLength="40.1" lengthAdjust="spacingAndGlyphs">ESCALA:</text>
<text x="1401.4" y="985" font-size="14" textLength="21.7" lengthAdjust="spacingAndGlyphs">S/E</text>
<text class="b" x="1231.6" y="1009.5" font-size="8.8" textLength="29.4" lengthAdjust="spacingAndGlyphs">DATA:</text>
<text x="1250.3" y="1021.4" font-size="14" textLength="74.2" lengthAdjust="spacingAndGlyphs">17/07/2012</text>
<text class="b" x="1356.4" y="1009.5" font-size="8.8" textLength="35.8" lengthAdjust="spacingAndGlyphs">FOLHA:</text>
<text x="1398.2" y="1027.2" font-size="14" textLength="36.7" lengthAdjust="spacingAndGlyphs">01/03</text>
<g stroke="#111" fill="none" stroke-width="1.6">
<circle cx="1427.3" cy="945.1" r="7.6"/>
<circle cx="1427.3" cy="945.1" r="2.9" stroke-width="1.3"/>
<path d="M1416 945.1 H1438.6 M1427.3 934.3 V955.8" stroke-width="1"/>
<path d="M1444.6 938 V953 L1467 948.8 V941.8 Z" stroke-width="1.7"/>
<path d="M1441.3 945.3 H1470.2" stroke-width="1"/>
</g>
</svg>
</body></html>
